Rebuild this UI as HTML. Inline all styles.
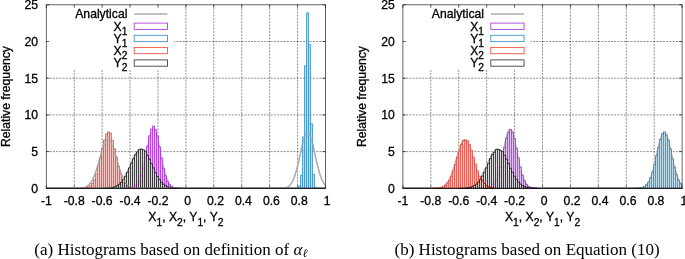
<!DOCTYPE html>
<html><head><meta charset="utf-8"><title>Histograms</title>
<style>
html,body{margin:0;padding:0;background:#fff;}
svg{display:block;}
.t{font-family:"Liberation Sans",sans-serif;font-size:12.2px;fill:#000;stroke:#000;stroke-width:0.3px;}
.c{font-family:"Liberation Serif","DejaVu Serif",serif;font-size:16.2px;fill:#000;}
</style></head><body>
<svg width="685" height="259" viewBox="0 0 685 259">
<rect width="685" height="259" fill="#fff"/>
<path d="M74.22 4.8 V188.3 M102.14 4.8 V188.3 M130.06 4.8 V188.3 M157.98 4.8 V188.3 M185.90 4.8 V188.3 M213.82 4.8 V188.3 M241.74 4.8 V188.3 M269.66 4.8 V188.3 M297.58 4.8 V188.3 M46.3 151.60 H325.5 M46.3 114.90 H325.5 M46.3 78.20 H325.5 M46.3 41.50 H325.5" fill="none" stroke="#000" stroke-width="0.7" stroke-dasharray="2.1 1.15" opacity="0.62"/>
<rect x="46.90" y="5.3999999999999995" width="127.00" height="64.10" fill="#fff"/>
<path d="M46.30 188.3 v-3.0 M46.30 4.8 v3.0 M74.22 188.3 v-3.0 M74.22 4.8 v3.0 M102.14 188.3 v-3.0 M102.14 4.8 v3.0 M130.06 188.3 v-3.0 M130.06 4.8 v3.0 M157.98 188.3 v-3.0 M157.98 4.8 v3.0 M185.90 188.3 v-3.0 M185.90 4.8 v3.0 M213.82 188.3 v-3.0 M213.82 4.8 v3.0 M241.74 188.3 v-3.0 M241.74 4.8 v3.0 M269.66 188.3 v-3.0 M269.66 4.8 v3.0 M297.58 188.3 v-3.0 M297.58 4.8 v3.0 M325.50 188.3 v-3.0 M325.50 4.8 v3.0 M46.3 188.30 h3.0 M325.5 188.30 h-3.0 M46.3 151.60 h3.0 M325.5 151.60 h-3.0 M46.3 114.90 h3.0 M325.5 114.90 h-3.0 M46.3 78.20 h3.0 M325.5 78.20 h-3.0 M46.3 41.50 h3.0 M325.5 41.50 h-3.0 M46.3 4.80 h3.0 M325.5 4.80 h-3.0" fill="none" stroke="#000" stroke-width="0.6"/>
<polyline points="46.30,188.30 46.86,188.30 47.42,188.30 47.98,188.30 48.53,188.30 49.09,188.30 49.65,188.30 50.21,188.30 50.77,188.30 51.33,188.30 51.88,188.30 52.44,188.30 53.00,188.30 53.56,188.30 54.12,188.30 54.68,188.30 55.23,188.30 55.79,188.30 56.35,188.30 56.91,188.30 57.47,188.30 58.03,188.30 58.58,188.30 59.14,188.30 59.70,188.30 60.26,188.30 60.82,188.30 61.38,188.30 61.94,188.30 62.49,188.30 63.05,188.30 63.61,188.30 64.17,188.30 64.73,188.30 65.29,188.30 65.84,188.30 66.40,188.30 66.96,188.30 67.52,188.30 68.08,188.30 68.64,188.30 69.19,188.30 69.75,188.30 70.31,188.30 70.87,188.30 71.43,188.30 71.99,188.30 72.54,188.30 73.10,188.30 73.66,188.30 74.22,188.30 74.78,188.30 75.34,188.30 75.90,188.30 76.45,188.30 77.01,188.30 77.57,188.30 78.13,188.30 78.69,188.30 79.25,188.30 79.80,188.30 80.36,188.30 80.92,188.30 81.48,188.30 82.04,188.30 82.60,188.30 83.15,188.30 83.71,188.30 84.27,188.30 84.83,188.30 85.39,188.30 85.95,188.30 86.50,188.30 87.06,188.30 87.62,188.30 88.18,188.30 88.74,188.30 89.30,188.30 89.86,188.30 90.41,188.30 90.97,188.30 91.53,188.30 92.09,188.30 92.65,188.30 93.21,188.30 93.76,188.30 94.32,188.30 94.88,188.30 95.44,188.30 96.00,188.30 96.56,188.30 97.11,188.30 97.67,188.30 98.23,188.30 98.79,188.30 99.35,188.30 99.91,188.30 100.46,188.30 101.02,188.30 101.58,188.30 102.14,188.30 102.70,188.30 103.26,188.30 103.82,188.30 104.37,188.30 104.93,188.30 105.49,188.30 106.05,188.30 106.61,188.30 107.17,188.30 107.72,188.30 108.28,188.30 108.84,188.30 109.40,188.30 109.96,188.30 110.52,188.30 111.07,188.30 111.63,188.30 112.19,188.30 112.75,188.30 113.31,188.30 113.87,188.30 114.42,188.30 114.98,188.30 115.54,188.30 116.10,188.30 116.66,188.30 117.22,188.30 117.78,188.30 118.33,188.30 118.89,188.30 119.45,188.30 120.01,188.30 120.57,188.30 121.13,188.30 121.68,188.30 122.24,188.30 122.80,188.30 123.36,188.30 123.92,188.29 124.48,188.29 125.03,188.29 125.59,188.28 126.15,188.27 126.71,188.27 127.27,188.25 127.83,188.24 128.38,188.21 128.94,188.19 129.50,188.15 130.06,188.10 130.62,188.04 131.18,187.96 131.74,187.86 132.29,187.74 132.85,187.59 133.41,187.40 133.97,187.17 134.53,186.88 135.09,186.54 135.64,186.13 136.20,185.64 136.76,185.06 137.32,184.38 137.88,183.58 138.44,182.67 138.99,181.62 139.55,180.42 140.11,179.07 140.67,177.56 141.23,175.88 141.79,174.03 142.34,172.01 142.90,169.82 143.46,167.48 144.02,164.99 144.58,162.38 145.14,159.65 145.70,156.85 146.25,153.99 146.81,151.11 147.37,148.26 147.93,145.46 148.49,142.76 149.05,140.21 149.60,137.84 150.16,135.69 150.72,133.81 151.28,132.23 151.84,130.97 152.40,130.06 152.95,129.52 153.51,129.36 154.07,129.58 154.63,130.18 155.19,131.14 155.75,132.45 156.30,134.08 156.86,136.00 157.42,138.18 157.98,140.58 158.54,143.16 159.10,145.87 159.66,148.68 160.21,151.54 160.77,154.42 161.33,157.27 161.89,160.07 162.45,162.78 163.01,165.37 163.56,167.84 164.12,170.16 164.68,172.32 165.24,174.31 165.80,176.14 166.36,177.79 166.91,179.28 167.47,180.61 168.03,181.78 168.59,182.81 169.15,183.71 169.71,184.49 170.26,185.15 170.82,185.72 171.38,186.19 171.94,186.60 172.50,186.93 173.06,187.20 173.62,187.43 174.17,187.61 174.73,187.76 175.29,187.88 175.85,187.98 176.41,188.05 176.97,188.11 177.52,188.16 178.08,188.19 178.64,188.22 179.20,188.24 179.76,188.25 180.32,188.27 180.87,188.28 181.43,188.28 181.99,188.29 182.55,188.29 183.11,188.29 183.67,188.30 184.22,188.30 184.78,188.30 185.34,188.30 185.90,188.30 186.46,188.30 187.02,188.30 187.58,188.30 188.13,188.30 188.69,188.30 189.25,188.30 189.81,188.30 190.37,188.30 190.93,188.30 191.48,188.30 192.04,188.30 192.60,188.30 193.16,188.30 193.72,188.30 194.28,188.30 194.83,188.30 195.39,188.30 195.95,188.30 196.51,188.30 197.07,188.30 197.63,188.30 198.18,188.30 198.74,188.30 199.30,188.30 199.86,188.30 200.42,188.30 200.98,188.30 201.54,188.30 202.09,188.30 202.65,188.30 203.21,188.30 203.77,188.30 204.33,188.30 204.89,188.30 205.44,188.30 206.00,188.30 206.56,188.30 207.12,188.30 207.68,188.30 208.24,188.30 208.79,188.30 209.35,188.30 209.91,188.30 210.47,188.30 211.03,188.30 211.59,188.30 212.14,188.30 212.70,188.30 213.26,188.30 213.82,188.30 214.38,188.30 214.94,188.30 215.50,188.30 216.05,188.30 216.61,188.30 217.17,188.30 217.73,188.30 218.29,188.30 218.85,188.30 219.40,188.30 219.96,188.30 220.52,188.30 221.08,188.30 221.64,188.30 222.20,188.30 222.75,188.30 223.31,188.30 223.87,188.30 224.43,188.30 224.99,188.30 225.55,188.30 226.10,188.30 226.66,188.30 227.22,188.30 227.78,188.30 228.34,188.30 228.90,188.30 229.46,188.30 230.01,188.30 230.57,188.30 231.13,188.30 231.69,188.30 232.25,188.30 232.81,188.30 233.36,188.30 233.92,188.30 234.48,188.30 235.04,188.30 235.60,188.30 236.16,188.30 236.71,188.30 237.27,188.30 237.83,188.30 238.39,188.30 238.95,188.30 239.51,188.30 240.06,188.30 240.62,188.30 241.18,188.30 241.74,188.30 242.30,188.30 242.86,188.30 243.42,188.30 243.97,188.30 244.53,188.30 245.09,188.30 245.65,188.30 246.21,188.30 246.77,188.30 247.32,188.30 247.88,188.30 248.44,188.30 249.00,188.30 249.56,188.30 250.12,188.30 250.67,188.30 251.23,188.30 251.79,188.30 252.35,188.30 252.91,188.30 253.47,188.30 254.02,188.30 254.58,188.30 255.14,188.30 255.70,188.30 256.26,188.30 256.82,188.30 257.38,188.30 257.93,188.30 258.49,188.30 259.05,188.30 259.61,188.30 260.17,188.30 260.73,188.30 261.28,188.30 261.84,188.30 262.40,188.30 262.96,188.30 263.52,188.30 264.08,188.30 264.63,188.30 265.19,188.30 265.75,188.30 266.31,188.30 266.87,188.30 267.43,188.30 267.98,188.30 268.54,188.30 269.10,188.30 269.66,188.30 270.22,188.30 270.78,188.30 271.34,188.30 271.89,188.30 272.45,188.30 273.01,188.30 273.57,188.30 274.13,188.30 274.69,188.30 275.24,188.30 275.80,188.30 276.36,188.30 276.92,188.30 277.48,188.30 278.04,188.30 278.59,188.30 279.15,188.30 279.71,188.30 280.27,188.30 280.83,188.30 281.39,188.30 281.94,188.30 282.50,188.30 283.06,188.30 283.62,188.30 284.18,188.30 284.74,188.30 285.30,188.30 285.85,188.30 286.41,188.30 286.97,188.30 287.53,188.30 288.09,188.30 288.65,188.30 289.20,188.30 289.76,188.30 290.32,188.30 290.88,188.30 291.44,188.30 292.00,188.30 292.55,188.30 293.11,188.30 293.67,188.30 294.23,188.30 294.79,188.30 295.35,188.30 295.90,188.30 296.46,188.30 297.02,188.30 297.58,188.30 298.14,188.30 298.70,188.30 299.26,188.30 299.81,188.30 300.37,188.30 300.93,188.30 301.49,188.30 302.05,188.30 302.61,188.30 303.16,188.30 303.72,188.30 304.28,188.30 304.84,188.30 305.40,188.30 305.96,188.30 306.51,188.30 307.07,188.30 307.63,188.30 308.19,188.30 308.75,188.30 309.31,188.30 309.86,188.30 310.42,188.30 310.98,188.30 311.54,188.30 312.10,188.30 312.66,188.30 313.22,188.30 313.77,188.30 314.33,188.30 314.89,188.30 315.45,188.30 316.01,188.30 316.57,188.30 317.12,188.30 317.68,188.30 318.24,188.30 318.80,188.30 319.36,188.30 319.92,188.30 320.47,188.30 321.03,188.30 321.59,188.30 322.15,188.30 322.71,188.30 323.27,188.30 323.82,188.30 324.38,188.30 324.94,188.30 325.50,188.30" fill="none" stroke="#adadad" stroke-width="1.4" stroke-linejoin="round"/>
<polyline points="46.30,188.30 46.86,188.30 47.42,188.30 47.98,188.30 48.53,188.30 49.09,188.30 49.65,188.30 50.21,188.30 50.77,188.30 51.33,188.30 51.88,188.30 52.44,188.30 53.00,188.30 53.56,188.30 54.12,188.30 54.68,188.30 55.23,188.30 55.79,188.30 56.35,188.30 56.91,188.30 57.47,188.30 58.03,188.30 58.58,188.30 59.14,188.30 59.70,188.30 60.26,188.30 60.82,188.30 61.38,188.30 61.94,188.30 62.49,188.30 63.05,188.30 63.61,188.30 64.17,188.30 64.73,188.30 65.29,188.30 65.84,188.30 66.40,188.30 66.96,188.30 67.52,188.30 68.08,188.30 68.64,188.30 69.19,188.30 69.75,188.30 70.31,188.30 70.87,188.30 71.43,188.30 71.99,188.30 72.54,188.30 73.10,188.30 73.66,188.30 74.22,188.30 74.78,188.30 75.34,188.30 75.90,188.30 76.45,188.30 77.01,188.30 77.57,188.30 78.13,188.30 78.69,188.30 79.25,188.30 79.80,188.30 80.36,188.30 80.92,188.30 81.48,188.30 82.04,188.30 82.60,188.30 83.15,188.30 83.71,188.30 84.27,188.30 84.83,188.30 85.39,188.30 85.95,188.30 86.50,188.30 87.06,188.30 87.62,188.30 88.18,188.30 88.74,188.30 89.30,188.30 89.86,188.30 90.41,188.30 90.97,188.30 91.53,188.30 92.09,188.30 92.65,188.30 93.21,188.30 93.76,188.30 94.32,188.30 94.88,188.30 95.44,188.30 96.00,188.30 96.56,188.30 97.11,188.30 97.67,188.30 98.23,188.30 98.79,188.30 99.35,188.30 99.91,188.30 100.46,188.30 101.02,188.30 101.58,188.30 102.14,188.30 102.70,188.30 103.26,188.30 103.82,188.30 104.37,188.30 104.93,188.30 105.49,188.30 106.05,188.30 106.61,188.30 107.17,188.30 107.72,188.30 108.28,188.30 108.84,188.30 109.40,188.30 109.96,188.30 110.52,188.30 111.07,188.30 111.63,188.30 112.19,188.30 112.75,188.30 113.31,188.30 113.87,188.30 114.42,188.30 114.98,188.30 115.54,188.30 116.10,188.30 116.66,188.30 117.22,188.30 117.78,188.30 118.33,188.30 118.89,188.30 119.45,188.30 120.01,188.30 120.57,188.30 121.13,188.30 121.68,188.30 122.24,188.30 122.80,188.30 123.36,188.30 123.92,188.30 124.48,188.30 125.03,188.30 125.59,188.30 126.15,188.30 126.71,188.30 127.27,188.30 127.83,188.30 128.38,188.30 128.94,188.30 129.50,188.30 130.06,188.30 130.62,188.30 131.18,188.30 131.74,188.30 132.29,188.30 132.85,188.30 133.41,188.30 133.97,188.30 134.53,188.30 135.09,188.30 135.64,188.30 136.20,188.30 136.76,188.30 137.32,188.30 137.88,188.30 138.44,188.30 138.99,188.30 139.55,188.30 140.11,188.30 140.67,188.30 141.23,188.30 141.79,188.30 142.34,188.30 142.90,188.30 143.46,188.30 144.02,188.30 144.58,188.30 145.14,188.30 145.70,188.30 146.25,188.30 146.81,188.30 147.37,188.30 147.93,188.30 148.49,188.30 149.05,188.30 149.60,188.30 150.16,188.30 150.72,188.30 151.28,188.30 151.84,188.30 152.40,188.30 152.95,188.30 153.51,188.30 154.07,188.30 154.63,188.30 155.19,188.30 155.75,188.30 156.30,188.30 156.86,188.30 157.42,188.30 157.98,188.30 158.54,188.30 159.10,188.30 159.66,188.30 160.21,188.30 160.77,188.30 161.33,188.30 161.89,188.30 162.45,188.30 163.01,188.30 163.56,188.30 164.12,188.30 164.68,188.30 165.24,188.30 165.80,188.30 166.36,188.30 166.91,188.30 167.47,188.30 168.03,188.30 168.59,188.30 169.15,188.30 169.71,188.30 170.26,188.30 170.82,188.30 171.38,188.30 171.94,188.30 172.50,188.30 173.06,188.30 173.62,188.30 174.17,188.30 174.73,188.30 175.29,188.30 175.85,188.30 176.41,188.30 176.97,188.30 177.52,188.30 178.08,188.30 178.64,188.30 179.20,188.30 179.76,188.30 180.32,188.30 180.87,188.30 181.43,188.30 181.99,188.30 182.55,188.30 183.11,188.30 183.67,188.30 184.22,188.30 184.78,188.30 185.34,188.30 185.90,188.30 186.46,188.30 187.02,188.30 187.58,188.30 188.13,188.30 188.69,188.30 189.25,188.30 189.81,188.30 190.37,188.30 190.93,188.30 191.48,188.30 192.04,188.30 192.60,188.30 193.16,188.30 193.72,188.30 194.28,188.30 194.83,188.30 195.39,188.30 195.95,188.30 196.51,188.30 197.07,188.30 197.63,188.30 198.18,188.30 198.74,188.30 199.30,188.30 199.86,188.30 200.42,188.30 200.98,188.30 201.54,188.30 202.09,188.30 202.65,188.30 203.21,188.30 203.77,188.30 204.33,188.30 204.89,188.30 205.44,188.30 206.00,188.30 206.56,188.30 207.12,188.30 207.68,188.30 208.24,188.30 208.79,188.30 209.35,188.30 209.91,188.30 210.47,188.30 211.03,188.30 211.59,188.30 212.14,188.30 212.70,188.30 213.26,188.30 213.82,188.30 214.38,188.30 214.94,188.30 215.50,188.30 216.05,188.30 216.61,188.30 217.17,188.30 217.73,188.30 218.29,188.30 218.85,188.30 219.40,188.30 219.96,188.30 220.52,188.30 221.08,188.30 221.64,188.30 222.20,188.30 222.75,188.30 223.31,188.30 223.87,188.30 224.43,188.30 224.99,188.30 225.55,188.30 226.10,188.30 226.66,188.30 227.22,188.30 227.78,188.30 228.34,188.30 228.90,188.30 229.46,188.30 230.01,188.30 230.57,188.30 231.13,188.30 231.69,188.30 232.25,188.30 232.81,188.30 233.36,188.30 233.92,188.30 234.48,188.30 235.04,188.30 235.60,188.30 236.16,188.30 236.71,188.30 237.27,188.30 237.83,188.30 238.39,188.30 238.95,188.30 239.51,188.30 240.06,188.30 240.62,188.30 241.18,188.30 241.74,188.30 242.30,188.30 242.86,188.30 243.42,188.30 243.97,188.30 244.53,188.30 245.09,188.30 245.65,188.30 246.21,188.30 246.77,188.30 247.32,188.30 247.88,188.30 248.44,188.30 249.00,188.30 249.56,188.30 250.12,188.30 250.67,188.30 251.23,188.30 251.79,188.30 252.35,188.30 252.91,188.30 253.47,188.30 254.02,188.30 254.58,188.30 255.14,188.30 255.70,188.30 256.26,188.30 256.82,188.30 257.38,188.30 257.93,188.30 258.49,188.30 259.05,188.30 259.61,188.30 260.17,188.30 260.73,188.30 261.28,188.30 261.84,188.30 262.40,188.30 262.96,188.30 263.52,188.30 264.08,188.30 264.63,188.30 265.19,188.30 265.75,188.30 266.31,188.30 266.87,188.30 267.43,188.30 267.98,188.30 268.54,188.30 269.10,188.30 269.66,188.30 270.22,188.30 270.78,188.30 271.34,188.30 271.89,188.30 272.45,188.30 273.01,188.30 273.57,188.30 274.13,188.30 274.69,188.30 275.24,188.30 275.80,188.29 276.36,188.29 276.92,188.29 277.48,188.29 278.04,188.28 278.59,188.27 279.15,188.27 279.71,188.25 280.27,188.24 280.83,188.22 281.39,188.20 281.94,188.16 282.50,188.12 283.06,188.07 283.62,188.01 284.18,187.93 284.74,187.83 285.30,187.71 285.85,187.56 286.41,187.38 286.97,187.16 287.53,186.89 288.09,186.58 288.65,186.21 289.20,185.77 289.76,185.25 290.32,184.65 290.88,183.96 291.44,183.17 292.00,182.27 292.55,181.25 293.11,180.10 293.67,178.83 294.23,177.41 294.79,175.85 295.35,174.16 295.90,172.32 296.46,170.34 297.02,168.24 297.58,166.02 298.14,163.69 298.70,161.27 299.26,158.78 299.81,156.25 300.37,153.70 300.93,151.16 301.49,148.65 302.05,146.22 302.61,143.89 303.16,141.71 303.72,139.69 304.28,137.87 304.84,136.28 305.40,134.94 305.96,133.88 306.51,133.12 307.07,132.66 307.63,132.52 308.19,132.69 308.75,133.18 309.31,133.97 309.86,135.06 310.42,136.42 310.98,138.04 311.54,139.88 312.10,141.92 312.66,144.12 313.22,146.46 313.77,148.90 314.33,151.41 314.89,153.95 315.45,156.51 316.01,159.03 316.57,161.52 317.12,163.92 317.68,166.24 318.24,168.46 318.80,170.55 319.36,172.51 319.92,174.33 320.47,176.02 321.03,177.56 321.59,178.96 322.15,180.22 322.71,181.36 323.27,182.37 323.82,183.26 324.38,184.04 324.94,184.72 325.50,185.31" fill="none" stroke="#adadad" stroke-width="1.4" stroke-linejoin="round"/>
<polyline points="46.30,188.30 46.86,188.30 47.42,188.30 47.98,188.30 48.53,188.30 49.09,188.30 49.65,188.30 50.21,188.30 50.77,188.30 51.33,188.30 51.88,188.30 52.44,188.30 53.00,188.30 53.56,188.30 54.12,188.30 54.68,188.30 55.23,188.30 55.79,188.30 56.35,188.30 56.91,188.30 57.47,188.30 58.03,188.30 58.58,188.30 59.14,188.30 59.70,188.30 60.26,188.30 60.82,188.30 61.38,188.30 61.94,188.30 62.49,188.30 63.05,188.30 63.61,188.30 64.17,188.30 64.73,188.30 65.29,188.30 65.84,188.30 66.40,188.30 66.96,188.30 67.52,188.30 68.08,188.30 68.64,188.30 69.19,188.30 69.75,188.30 70.31,188.30 70.87,188.30 71.43,188.30 71.99,188.30 72.54,188.29 73.10,188.29 73.66,188.29 74.22,188.29 74.78,188.28 75.34,188.28 75.90,188.27 76.45,188.26 77.01,188.25 77.57,188.23 78.13,188.22 78.69,188.19 79.25,188.17 79.80,188.13 80.36,188.09 80.92,188.04 81.48,187.98 82.04,187.90 82.60,187.81 83.15,187.71 83.71,187.58 84.27,187.43 84.83,187.25 85.39,187.04 85.95,186.80 86.50,186.51 87.06,186.19 87.62,185.81 88.18,185.38 88.74,184.89 89.30,184.34 89.86,183.71 90.41,183.01 90.97,182.23 91.53,181.37 92.09,180.42 92.65,179.37 93.21,178.23 93.76,177.00 94.32,175.67 94.88,174.25 95.44,172.74 96.00,171.14 96.56,169.46 97.11,167.70 97.67,165.88 98.23,164.01 98.79,162.09 99.35,160.15 99.91,158.19 100.46,156.24 101.02,154.32 101.58,152.44 102.14,150.62 102.70,148.88 103.26,147.24 103.82,145.72 104.37,144.34 104.93,143.12 105.49,142.06 106.05,141.19 106.61,140.51 107.17,140.04 107.72,139.77 108.28,139.72 108.84,139.88 109.40,140.25 109.96,140.83 110.52,141.60 111.07,142.57 111.63,143.71 112.19,145.02 112.75,146.47 113.31,148.05 113.87,149.74 114.42,151.52 114.98,153.37 115.54,155.28 116.10,157.22 116.66,159.17 117.22,161.12 117.78,163.05 118.33,164.95 118.89,166.80 119.45,168.59 120.01,170.31 120.57,171.95 121.13,173.51 121.68,174.98 122.24,176.35 122.80,177.63 123.36,178.82 123.92,179.91 124.48,180.90 125.03,181.81 125.59,182.63 126.15,183.37 126.71,184.03 127.27,184.62 127.83,185.14 128.38,185.60 128.94,186.01 129.50,186.36 130.06,186.66 130.62,186.92 131.18,187.15 131.74,187.34 132.29,187.51 132.85,187.65 133.41,187.76 133.97,187.86 134.53,187.94 135.09,188.01 135.64,188.07 136.20,188.11 136.76,188.15 137.32,188.18 137.88,188.21 138.44,188.23 138.99,188.24 139.55,188.25 140.11,188.26 140.67,188.27 141.23,188.28 141.79,188.28 142.34,188.29 142.90,188.29 143.46,188.29 144.02,188.29 144.58,188.30 145.14,188.30 145.70,188.30 146.25,188.30 146.81,188.30 147.37,188.30 147.93,188.30 148.49,188.30 149.05,188.30 149.60,188.30 150.16,188.30 150.72,188.30 151.28,188.30 151.84,188.30 152.40,188.30 152.95,188.30 153.51,188.30 154.07,188.30 154.63,188.30 155.19,188.30 155.75,188.30 156.30,188.30 156.86,188.30 157.42,188.30 157.98,188.30 158.54,188.30 159.10,188.30 159.66,188.30 160.21,188.30 160.77,188.30 161.33,188.30 161.89,188.30 162.45,188.30 163.01,188.30 163.56,188.30 164.12,188.30 164.68,188.30 165.24,188.30 165.80,188.30 166.36,188.30 166.91,188.30 167.47,188.30 168.03,188.30 168.59,188.30 169.15,188.30 169.71,188.30 170.26,188.30 170.82,188.30 171.38,188.30 171.94,188.30 172.50,188.30 173.06,188.30 173.62,188.30 174.17,188.30 174.73,188.30 175.29,188.30 175.85,188.30 176.41,188.30 176.97,188.30 177.52,188.30 178.08,188.30 178.64,188.30 179.20,188.30 179.76,188.30 180.32,188.30 180.87,188.30 181.43,188.30 181.99,188.30 182.55,188.30 183.11,188.30 183.67,188.30 184.22,188.30 184.78,188.30 185.34,188.30 185.90,188.30 186.46,188.30 187.02,188.30 187.58,188.30 188.13,188.30 188.69,188.30 189.25,188.30 189.81,188.30 190.37,188.30 190.93,188.30 191.48,188.30 192.04,188.30 192.60,188.30 193.16,188.30 193.72,188.30 194.28,188.30 194.83,188.30 195.39,188.30 195.95,188.30 196.51,188.30 197.07,188.30 197.63,188.30 198.18,188.30 198.74,188.30 199.30,188.30 199.86,188.30 200.42,188.30 200.98,188.30 201.54,188.30 202.09,188.30 202.65,188.30 203.21,188.30 203.77,188.30 204.33,188.30 204.89,188.30 205.44,188.30 206.00,188.30 206.56,188.30 207.12,188.30 207.68,188.30 208.24,188.30 208.79,188.30 209.35,188.30 209.91,188.30 210.47,188.30 211.03,188.30 211.59,188.30 212.14,188.30 212.70,188.30 213.26,188.30 213.82,188.30 214.38,188.30 214.94,188.30 215.50,188.30 216.05,188.30 216.61,188.30 217.17,188.30 217.73,188.30 218.29,188.30 218.85,188.30 219.40,188.30 219.96,188.30 220.52,188.30 221.08,188.30 221.64,188.30 222.20,188.30 222.75,188.30 223.31,188.30 223.87,188.30 224.43,188.30 224.99,188.30 225.55,188.30 226.10,188.30 226.66,188.30 227.22,188.30 227.78,188.30 228.34,188.30 228.90,188.30 229.46,188.30 230.01,188.30 230.57,188.30 231.13,188.30 231.69,188.30 232.25,188.30 232.81,188.30 233.36,188.30 233.92,188.30 234.48,188.30 235.04,188.30 235.60,188.30 236.16,188.30 236.71,188.30 237.27,188.30 237.83,188.30 238.39,188.30 238.95,188.30 239.51,188.30 240.06,188.30 240.62,188.30 241.18,188.30 241.74,188.30 242.30,188.30 242.86,188.30 243.42,188.30 243.97,188.30 244.53,188.30 245.09,188.30 245.65,188.30 246.21,188.30 246.77,188.30 247.32,188.30 247.88,188.30 248.44,188.30 249.00,188.30 249.56,188.30 250.12,188.30 250.67,188.30 251.23,188.30 251.79,188.30 252.35,188.30 252.91,188.30 253.47,188.30 254.02,188.30 254.58,188.30 255.14,188.30 255.70,188.30 256.26,188.30 256.82,188.30 257.38,188.30 257.93,188.30 258.49,188.30 259.05,188.30 259.61,188.30 260.17,188.30 260.73,188.30 261.28,188.30 261.84,188.30 262.40,188.30 262.96,188.30 263.52,188.30 264.08,188.30 264.63,188.30 265.19,188.30 265.75,188.30 266.31,188.30 266.87,188.30 267.43,188.30 267.98,188.30 268.54,188.30 269.10,188.30 269.66,188.30 270.22,188.30 270.78,188.30 271.34,188.30 271.89,188.30 272.45,188.30 273.01,188.30 273.57,188.30 274.13,188.30 274.69,188.30 275.24,188.30 275.80,188.30 276.36,188.30 276.92,188.30 277.48,188.30 278.04,188.30 278.59,188.30 279.15,188.30 279.71,188.30 280.27,188.30 280.83,188.30 281.39,188.30 281.94,188.30 282.50,188.30 283.06,188.30 283.62,188.30 284.18,188.30 284.74,188.30 285.30,188.30 285.85,188.30 286.41,188.30 286.97,188.30 287.53,188.30 288.09,188.30 288.65,188.30 289.20,188.30 289.76,188.30 290.32,188.30 290.88,188.30 291.44,188.30 292.00,188.30 292.55,188.30 293.11,188.30 293.67,188.30 294.23,188.30 294.79,188.30 295.35,188.30 295.90,188.30 296.46,188.30 297.02,188.30 297.58,188.30 298.14,188.30 298.70,188.30 299.26,188.30 299.81,188.30 300.37,188.30 300.93,188.30 301.49,188.30 302.05,188.30 302.61,188.30 303.16,188.30 303.72,188.30 304.28,188.30 304.84,188.30 305.40,188.30 305.96,188.30 306.51,188.30 307.07,188.30 307.63,188.30 308.19,188.30 308.75,188.30 309.31,188.30 309.86,188.30 310.42,188.30 310.98,188.30 311.54,188.30 312.10,188.30 312.66,188.30 313.22,188.30 313.77,188.30 314.33,188.30 314.89,188.30 315.45,188.30 316.01,188.30 316.57,188.30 317.12,188.30 317.68,188.30 318.24,188.30 318.80,188.30 319.36,188.30 319.92,188.30 320.47,188.30 321.03,188.30 321.59,188.30 322.15,188.30 322.71,188.30 323.27,188.30 323.82,188.30 324.38,188.30 324.94,188.30 325.50,188.30" fill="none" stroke="#adadad" stroke-width="1.4" stroke-linejoin="round"/>
<polyline points="46.30,188.30 46.86,188.30 47.42,188.30 47.98,188.30 48.53,188.30 49.09,188.30 49.65,188.30 50.21,188.30 50.77,188.30 51.33,188.30 51.88,188.30 52.44,188.30 53.00,188.30 53.56,188.30 54.12,188.30 54.68,188.30 55.23,188.30 55.79,188.30 56.35,188.30 56.91,188.30 57.47,188.30 58.03,188.30 58.58,188.30 59.14,188.30 59.70,188.30 60.26,188.30 60.82,188.30 61.38,188.30 61.94,188.30 62.49,188.30 63.05,188.30 63.61,188.30 64.17,188.30 64.73,188.30 65.29,188.30 65.84,188.30 66.40,188.30 66.96,188.30 67.52,188.30 68.08,188.30 68.64,188.30 69.19,188.30 69.75,188.30 70.31,188.30 70.87,188.30 71.43,188.30 71.99,188.30 72.54,188.30 73.10,188.30 73.66,188.30 74.22,188.30 74.78,188.30 75.34,188.30 75.90,188.30 76.45,188.30 77.01,188.30 77.57,188.30 78.13,188.30 78.69,188.30 79.25,188.30 79.80,188.30 80.36,188.30 80.92,188.30 81.48,188.30 82.04,188.30 82.60,188.30 83.15,188.30 83.71,188.30 84.27,188.30 84.83,188.30 85.39,188.30 85.95,188.30 86.50,188.30 87.06,188.30 87.62,188.30 88.18,188.30 88.74,188.30 89.30,188.30 89.86,188.30 90.41,188.30 90.97,188.30 91.53,188.30 92.09,188.30 92.65,188.30 93.21,188.30 93.76,188.30 94.32,188.30 94.88,188.30 95.44,188.30 96.00,188.30 96.56,188.29 97.11,188.29 97.67,188.29 98.23,188.29 98.79,188.29 99.35,188.28 99.91,188.28 100.46,188.28 101.02,188.27 101.58,188.26 102.14,188.26 102.70,188.25 103.26,188.23 103.82,188.22 104.37,188.20 104.93,188.19 105.49,188.16 106.05,188.14 106.61,188.11 107.17,188.07 107.72,188.03 108.28,187.98 108.84,187.92 109.40,187.86 109.96,187.78 110.52,187.69 111.07,187.59 111.63,187.48 112.19,187.35 112.75,187.21 113.31,187.04 113.87,186.86 114.42,186.65 114.98,186.41 115.54,186.16 116.10,185.87 116.66,185.55 117.22,185.19 117.78,184.80 118.33,184.38 118.89,183.91 119.45,183.40 120.01,182.85 120.57,182.26 121.13,181.61 121.68,180.92 122.24,180.19 122.80,179.40 123.36,178.56 123.92,177.68 124.48,176.74 125.03,175.76 125.59,174.74 126.15,173.67 126.71,172.56 127.27,171.42 127.83,170.24 128.38,169.04 128.94,167.81 129.50,166.57 130.06,165.31 130.62,164.05 131.18,162.80 131.74,161.55 132.29,160.32 132.85,159.12 133.41,157.95 133.97,156.82 134.53,155.74 135.09,154.72 135.64,153.77 136.20,152.88 136.76,152.08 137.32,151.36 137.88,150.73 138.44,150.20 138.99,149.77 139.55,149.45 140.11,149.23 140.67,149.12 141.23,149.12 141.79,149.23 142.34,149.45 142.90,149.77 143.46,150.20 144.02,150.73 144.58,151.36 145.14,152.08 145.70,152.88 146.25,153.77 146.81,154.72 147.37,155.74 147.93,156.82 148.49,157.95 149.05,159.12 149.60,160.32 150.16,161.55 150.72,162.80 151.28,164.05 151.84,165.31 152.40,166.57 152.95,167.81 153.51,169.04 154.07,170.24 154.63,171.42 155.19,172.56 155.75,173.67 156.30,174.74 156.86,175.76 157.42,176.74 157.98,177.68 158.54,178.56 159.10,179.40 159.66,180.19 160.21,180.92 160.77,181.61 161.33,182.26 161.89,182.85 162.45,183.40 163.01,183.91 163.56,184.38 164.12,184.80 164.68,185.19 165.24,185.55 165.80,185.87 166.36,186.16 166.91,186.41 167.47,186.65 168.03,186.86 168.59,187.04 169.15,187.21 169.71,187.35 170.26,187.48 170.82,187.59 171.38,187.69 171.94,187.78 172.50,187.86 173.06,187.92 173.62,187.98 174.17,188.03 174.73,188.07 175.29,188.11 175.85,188.14 176.41,188.16 176.97,188.19 177.52,188.20 178.08,188.22 178.64,188.23 179.20,188.25 179.76,188.26 180.32,188.26 180.87,188.27 181.43,188.28 181.99,188.28 182.55,188.28 183.11,188.29 183.67,188.29 184.22,188.29 184.78,188.29 185.34,188.29 185.90,188.30 186.46,188.30 187.02,188.30 187.58,188.30 188.13,188.30 188.69,188.30 189.25,188.30 189.81,188.30 190.37,188.30 190.93,188.30 191.48,188.30 192.04,188.30 192.60,188.30 193.16,188.30 193.72,188.30 194.28,188.30 194.83,188.30 195.39,188.30 195.95,188.30 196.51,188.30 197.07,188.30 197.63,188.30 198.18,188.30 198.74,188.30 199.30,188.30 199.86,188.30 200.42,188.30 200.98,188.30 201.54,188.30 202.09,188.30 202.65,188.30 203.21,188.30 203.77,188.30 204.33,188.30 204.89,188.30 205.44,188.30 206.00,188.30 206.56,188.30 207.12,188.30 207.68,188.30 208.24,188.30 208.79,188.30 209.35,188.30 209.91,188.30 210.47,188.30 211.03,188.30 211.59,188.30 212.14,188.30 212.70,188.30 213.26,188.30 213.82,188.30 214.38,188.30 214.94,188.30 215.50,188.30 216.05,188.30 216.61,188.30 217.17,188.30 217.73,188.30 218.29,188.30 218.85,188.30 219.40,188.30 219.96,188.30 220.52,188.30 221.08,188.30 221.64,188.30 222.20,188.30 222.75,188.30 223.31,188.30 223.87,188.30 224.43,188.30 224.99,188.30 225.55,188.30 226.10,188.30 226.66,188.30 227.22,188.30 227.78,188.30 228.34,188.30 228.90,188.30 229.46,188.30 230.01,188.30 230.57,188.30 231.13,188.30 231.69,188.30 232.25,188.30 232.81,188.30 233.36,188.30 233.92,188.30 234.48,188.30 235.04,188.30 235.60,188.30 236.16,188.30 236.71,188.30 237.27,188.30 237.83,188.30 238.39,188.30 238.95,188.30 239.51,188.30 240.06,188.30 240.62,188.30 241.18,188.30 241.74,188.30 242.30,188.30 242.86,188.30 243.42,188.30 243.97,188.30 244.53,188.30 245.09,188.30 245.65,188.30 246.21,188.30 246.77,188.30 247.32,188.30 247.88,188.30 248.44,188.30 249.00,188.30 249.56,188.30 250.12,188.30 250.67,188.30 251.23,188.30 251.79,188.30 252.35,188.30 252.91,188.30 253.47,188.30 254.02,188.30 254.58,188.30 255.14,188.30 255.70,188.30 256.26,188.30 256.82,188.30 257.38,188.30 257.93,188.30 258.49,188.30 259.05,188.30 259.61,188.30 260.17,188.30 260.73,188.30 261.28,188.30 261.84,188.30 262.40,188.30 262.96,188.30 263.52,188.30 264.08,188.30 264.63,188.30 265.19,188.30 265.75,188.30 266.31,188.30 266.87,188.30 267.43,188.30 267.98,188.30 268.54,188.30 269.10,188.30 269.66,188.30 270.22,188.30 270.78,188.30 271.34,188.30 271.89,188.30 272.45,188.30 273.01,188.30 273.57,188.30 274.13,188.30 274.69,188.30 275.24,188.30 275.80,188.30 276.36,188.30 276.92,188.30 277.48,188.30 278.04,188.30 278.59,188.30 279.15,188.30 279.71,188.30 280.27,188.30 280.83,188.30 281.39,188.30 281.94,188.30 282.50,188.30 283.06,188.30 283.62,188.30 284.18,188.30 284.74,188.30 285.30,188.30 285.85,188.30 286.41,188.30 286.97,188.30 287.53,188.30 288.09,188.30 288.65,188.30 289.20,188.30 289.76,188.30 290.32,188.30 290.88,188.30 291.44,188.30 292.00,188.30 292.55,188.30 293.11,188.30 293.67,188.30 294.23,188.30 294.79,188.30 295.35,188.30 295.90,188.30 296.46,188.30 297.02,188.30 297.58,188.30 298.14,188.30 298.70,188.30 299.26,188.30 299.81,188.30 300.37,188.30 300.93,188.30 301.49,188.30 302.05,188.30 302.61,188.30 303.16,188.30 303.72,188.30 304.28,188.30 304.84,188.30 305.40,188.30 305.96,188.30 306.51,188.30 307.07,188.30 307.63,188.30 308.19,188.30 308.75,188.30 309.31,188.30 309.86,188.30 310.42,188.30 310.98,188.30 311.54,188.30 312.10,188.30 312.66,188.30 313.22,188.30 313.77,188.30 314.33,188.30 314.89,188.30 315.45,188.30 316.01,188.30 316.57,188.30 317.12,188.30 317.68,188.30 318.24,188.30 318.80,188.30 319.36,188.30 319.92,188.30 320.47,188.30 321.03,188.30 321.59,188.30 322.15,188.30 322.71,188.30 323.27,188.30 323.82,188.30 324.38,188.30 324.94,188.30 325.50,188.30" fill="none" stroke="#adadad" stroke-width="1.4" stroke-linejoin="round"/>
<path d="M126.50 188.3V188.27H128.50V188.3ZM128.50 188.3V188.20H130.50V188.3ZM130.50 188.3V188.01H132.50V188.3ZM132.50 188.3V187.58H134.50V188.3ZM134.50 188.3V186.60H136.50V188.3ZM136.50 188.3V184.68H138.50V188.3ZM138.50 188.3V181.21H140.50V188.3ZM140.50 188.3V175.77H142.50V188.3ZM142.50 188.3V168.16H144.50V188.3ZM144.50 188.3V157.60H146.50V188.3ZM146.50 188.3V146.23H148.50V188.3ZM148.50 188.3V135.83H150.50V188.3ZM150.50 188.3V128.93H152.50V188.3ZM152.50 188.3V125.95H154.50V188.3ZM154.50 188.3V129.56H156.50V188.3ZM156.50 188.3V135.94H158.50V188.3ZM158.50 188.3V146.72H160.50V188.3ZM160.50 188.3V158.12H162.50V188.3ZM162.50 188.3V168.22H164.50V188.3ZM164.50 188.3V175.70H166.50V188.3ZM166.50 188.3V181.21H168.50V188.3ZM168.50 188.3V184.76H170.50V188.3ZM170.50 188.3V186.61H172.50V188.3ZM172.50 188.3V187.58H174.50V188.3ZM174.50 188.3V188.02H176.50V188.3ZM176.50 188.3V188.20H178.50V188.3ZM178.50 188.3V188.27H180.50V188.3Z" fill="#dfb2f2" fill-opacity="0.85"/><path d="M126.50 188.3V188.27M126.50 188.27H128.50M128.50 188.3V188.20M128.50 188.20H130.50M130.50 188.3V188.01M130.50 188.01H132.50M132.50 188.3V187.58M132.50 187.58H134.50M134.50 188.3V186.60M134.50 186.60H136.50M136.50 188.3V184.68M136.50 184.68H138.50M138.50 188.3V181.21M138.50 181.21H140.50M140.50 188.3V175.77M140.50 175.77H142.50M142.50 188.3V168.16M142.50 168.16H144.50M144.50 188.3V157.60M144.50 157.60H146.50M146.50 188.3V146.23M146.50 146.23H148.50M148.50 188.3V135.83M148.50 135.83H150.50M150.50 188.3V128.93M150.50 128.93H152.50M152.50 188.3V125.95M152.50 125.95H154.50M154.50 188.3V125.95M154.50 129.56H156.50M156.50 188.3V129.56M156.50 135.94H158.50M158.50 188.3V135.94M158.50 146.72H160.50M160.50 188.3V146.72M160.50 158.12H162.50M162.50 188.3V158.12M162.50 168.22H164.50M164.50 188.3V168.22M164.50 175.70H166.50M166.50 188.3V175.70M166.50 181.21H168.50M168.50 188.3V181.21M168.50 184.76H170.50M170.50 188.3V184.76M170.50 186.61H172.50M172.50 188.3V186.61M172.50 187.58H174.50M174.50 188.3V187.58M174.50 188.02H176.50M176.50 188.3V188.02M176.50 188.20H178.50M178.50 188.3V188.20M178.50 188.27H180.50M180.50 188.3V188.27" fill="none" stroke="#9400d3" stroke-width="1.0" stroke-opacity="0.6"/>
<path d="M298.50 188.3V186.10H300.50V188.3ZM300.50 188.3V175.09H302.50V188.3ZM302.50 188.3V136.92H304.50V188.3ZM304.50 188.3V65.72H306.50V188.3ZM306.50 188.3V12.87H308.50V188.3ZM308.50 188.3V44.44H310.50V188.3ZM310.50 188.3V123.71H312.50V188.3ZM312.50 188.3V174.35H314.50V188.3ZM314.50 188.3V187.20H316.50V188.3Z" fill="#b2d5e8" fill-opacity="0.85"/><path d="M298.50 188.3V186.10M298.50 186.10H300.50M300.50 188.3V175.09M300.50 175.09H302.50M302.50 188.3V136.92M302.50 136.92H304.50M304.50 188.3V65.72M304.50 65.72H306.50M306.50 188.3V12.87M306.50 12.87H308.50M308.50 188.3V12.87M308.50 44.44H310.50M310.50 188.3V44.44M310.50 123.71H312.50M312.50 188.3V123.71M312.50 174.35H314.50M314.50 188.3V174.35M314.50 187.20H316.50M316.50 188.3V187.20" fill="none" stroke="#0072b2" stroke-width="1.0" stroke-opacity="0.6"/>
<path d="M79.50 188.3V188.27H81.50V188.3ZM81.50 188.3V188.21H83.50V188.3ZM83.50 188.3V188.07H85.50V188.3ZM85.50 188.3V187.74H87.50V188.3ZM87.50 188.3V187.06H89.50V188.3ZM89.50 188.3V185.73H91.50V188.3ZM91.50 188.3V183.43H93.50V188.3ZM93.50 188.3V179.72H95.50V188.3ZM95.50 188.3V174.13H97.50V188.3ZM97.50 188.3V166.39H99.50V188.3ZM99.50 188.3V157.86H101.50V188.3ZM101.50 188.3V148.43H103.50V188.3ZM103.50 188.3V139.92H105.50V188.3ZM105.50 188.3V134.03H107.50V188.3ZM107.50 188.3V131.94H109.50V188.3ZM109.50 188.3V133.22H111.50V188.3ZM111.50 188.3V140.30H113.50V188.3ZM113.50 188.3V148.84H115.50V188.3ZM115.50 188.3V157.24H117.50V188.3ZM117.50 188.3V166.33H119.50V188.3ZM119.50 188.3V173.83H121.50V188.3ZM121.50 188.3V179.64H123.50V188.3ZM123.50 188.3V183.35H125.50V188.3ZM125.50 188.3V185.72H127.50V188.3ZM127.50 188.3V187.08H129.50V188.3ZM129.50 188.3V187.74H131.50V188.3ZM131.50 188.3V188.07H133.50V188.3ZM133.50 188.3V188.21H135.50V188.3ZM135.50 188.3V188.27H137.50V188.3Z" fill="#f7bcb7" fill-opacity="0.85"/><path d="M79.50 188.3V188.27M79.50 188.27H81.50M81.50 188.3V188.21M81.50 188.21H83.50M83.50 188.3V188.07M83.50 188.07H85.50M85.50 188.3V187.74M85.50 187.74H87.50M87.50 188.3V187.06M87.50 187.06H89.50M89.50 188.3V185.73M89.50 185.73H91.50M91.50 188.3V183.43M91.50 183.43H93.50M93.50 188.3V179.72M93.50 179.72H95.50M95.50 188.3V174.13M95.50 174.13H97.50M97.50 188.3V166.39M97.50 166.39H99.50M99.50 188.3V157.86M99.50 157.86H101.50M101.50 188.3V148.43M101.50 148.43H103.50M103.50 188.3V139.92M103.50 139.92H105.50M105.50 188.3V134.03M105.50 134.03H107.50M107.50 188.3V131.94M107.50 131.94H109.50M109.50 188.3V131.94M109.50 133.22H111.50M111.50 188.3V133.22M111.50 140.30H113.50M113.50 188.3V140.30M113.50 148.84H115.50M115.50 188.3V148.84M115.50 157.24H117.50M117.50 188.3V157.24M117.50 166.33H119.50M119.50 188.3V166.33M119.50 173.83H121.50M121.50 188.3V173.83M121.50 179.64H123.50M123.50 188.3V179.64M123.50 183.35H125.50M125.50 188.3V183.35M125.50 185.72H127.50M127.50 188.3V185.72M127.50 187.08H129.50M129.50 188.3V187.08M129.50 187.74H131.50M131.50 188.3V187.74M131.50 188.07H133.50M133.50 188.3V188.07M133.50 188.21H135.50M135.50 188.3V188.21M135.50 188.27H137.50M137.50 188.3V188.27" fill="none" stroke="#e51e10" stroke-width="1.0" stroke-opacity="0.6"/>
<path d="M102.50 188.3V188.25H104.50V188.3ZM104.50 188.3V188.21H106.50V188.3ZM106.50 188.3V188.12H108.50V188.3ZM108.50 188.3V187.97H110.50V188.3ZM110.50 188.3V187.72H112.50V188.3ZM112.50 188.3V187.28H114.50V188.3ZM114.50 188.3V186.62H116.50V188.3ZM116.50 188.3V185.65H118.50V188.3ZM118.50 188.3V184.20H120.50V188.3ZM120.50 188.3V182.29H122.50V188.3ZM122.50 188.3V179.53H124.50V188.3ZM124.50 188.3V176.30H126.50V188.3ZM126.50 188.3V172.29H128.50V188.3ZM128.50 188.3V167.94H130.50V188.3ZM130.50 188.3V163.37H132.50V188.3ZM132.50 188.3V158.73H134.50V188.3ZM134.50 188.3V154.75H136.50V188.3ZM136.50 188.3V151.96H138.50V188.3ZM138.50 188.3V149.30H140.50V188.3ZM140.50 188.3V149.25H142.50V188.3ZM142.50 188.3V149.82H144.50V188.3ZM144.50 188.3V151.22H146.50V188.3ZM146.50 188.3V155.27H148.50V188.3ZM148.50 188.3V159.29H150.50V188.3ZM150.50 188.3V163.79H152.50V188.3ZM152.50 188.3V167.88H154.50V188.3ZM154.50 188.3V172.63H156.50V188.3ZM156.50 188.3V176.53H158.50V188.3ZM158.50 188.3V179.53H160.50V188.3ZM160.50 188.3V182.29H162.50V188.3ZM162.50 188.3V184.15H164.50V188.3ZM164.50 188.3V185.62H166.50V188.3ZM166.50 188.3V186.61H168.50V188.3ZM168.50 188.3V187.28H170.50V188.3ZM170.50 188.3V187.71H172.50V188.3ZM172.50 188.3V187.97H174.50V188.3ZM174.50 188.3V188.13H176.50V188.3ZM176.50 188.3V188.21H178.50V188.3ZM178.50 188.3V188.25H180.50V188.3Z" fill="#dbdbdb" fill-opacity="0.85"/><path d="M102.50 188.3V188.25M102.50 188.25H104.50M104.50 188.3V188.21M104.50 188.21H106.50M106.50 188.3V188.12M106.50 188.12H108.50M108.50 188.3V187.97M108.50 187.97H110.50M110.50 188.3V187.72M110.50 187.72H112.50M112.50 188.3V187.28M112.50 187.28H114.50M114.50 188.3V186.62M114.50 186.62H116.50M116.50 188.3V185.65M116.50 185.65H118.50M118.50 188.3V184.20M118.50 184.20H120.50M120.50 188.3V182.29M120.50 182.29H122.50M122.50 188.3V179.53M122.50 179.53H124.50M124.50 188.3V176.30M124.50 176.30H126.50M126.50 188.3V172.29M126.50 172.29H128.50M128.50 188.3V167.94M128.50 167.94H130.50M130.50 188.3V163.37M130.50 163.37H132.50M132.50 188.3V158.73M132.50 158.73H134.50M134.50 188.3V154.75M134.50 154.75H136.50M136.50 188.3V151.96M136.50 151.96H138.50M138.50 188.3V149.30M138.50 149.30H140.50M140.50 188.3V149.25M140.50 149.25H142.50M142.50 188.3V149.25M142.50 149.82H144.50M144.50 188.3V149.82M144.50 151.22H146.50M146.50 188.3V151.22M146.50 155.27H148.50M148.50 188.3V155.27M148.50 159.29H150.50M150.50 188.3V159.29M150.50 163.79H152.50M152.50 188.3V163.79M152.50 167.88H154.50M154.50 188.3V167.88M154.50 172.63H156.50M156.50 188.3V172.63M156.50 176.53H158.50M158.50 188.3V176.53M158.50 179.53H160.50M160.50 188.3V179.53M160.50 182.29H162.50M162.50 188.3V182.29M162.50 184.15H164.50M164.50 188.3V184.15M164.50 185.62H166.50M166.50 188.3V185.62M166.50 186.61H168.50M168.50 188.3V186.61M168.50 187.28H170.50M170.50 188.3V187.28M170.50 187.71H172.50M172.50 188.3V187.71M172.50 187.97H174.50M174.50 188.3V187.97M174.50 188.13H176.50M176.50 188.3V188.13M176.50 188.21H178.50M178.50 188.3V188.21M178.50 188.25H180.50M180.50 188.3V188.25" fill="none" stroke="#000000" stroke-width="1.0" stroke-opacity="0.72"/>
<circle cx="132.50" cy="187.58" r="0.75" fill="#9400d3"/><circle cx="134.50" cy="186.60" r="0.75" fill="#9400d3"/><circle cx="136.50" cy="184.68" r="0.75" fill="#9400d3"/><circle cx="138.50" cy="181.21" r="0.75" fill="#9400d3"/><circle cx="140.50" cy="175.77" r="0.75" fill="#9400d3"/><circle cx="142.50" cy="168.16" r="0.75" fill="#9400d3"/><circle cx="144.50" cy="157.60" r="0.75" fill="#9400d3"/>
<circle cx="125.50" cy="183.35" r="0.75" fill="#e51e10"/><circle cx="127.50" cy="185.72" r="0.75" fill="#e51e10"/><circle cx="129.50" cy="187.08" r="0.75" fill="#e51e10"/><circle cx="131.50" cy="187.74" r="0.75" fill="#e51e10"/>
<polyline points="46.30,188.30 46.86,188.30 47.42,188.30 47.98,188.30 48.53,188.30 49.09,188.30 49.65,188.30 50.21,188.30 50.77,188.30 51.33,188.30 51.88,188.30 52.44,188.30 53.00,188.30 53.56,188.30 54.12,188.30 54.68,188.30 55.23,188.30 55.79,188.30 56.35,188.30 56.91,188.30 57.47,188.30 58.03,188.30 58.58,188.30 59.14,188.30 59.70,188.30 60.26,188.30 60.82,188.30 61.38,188.30 61.94,188.30 62.49,188.30 63.05,188.30 63.61,188.30 64.17,188.30 64.73,188.30 65.29,188.30 65.84,188.30 66.40,188.30 66.96,188.30 67.52,188.30 68.08,188.30 68.64,188.30 69.19,188.30 69.75,188.30 70.31,188.30 70.87,188.30 71.43,188.30 71.99,188.30 72.54,188.30 73.10,188.30 73.66,188.30 74.22,188.30 74.78,188.30 75.34,188.30 75.90,188.30 76.45,188.30 77.01,188.30 77.57,188.30 78.13,188.30 78.69,188.30 79.25,188.30 79.80,188.30 80.36,188.30 80.92,188.30 81.48,188.30 82.04,188.30 82.60,188.30 83.15,188.30 83.71,188.30 84.27,188.30 84.83,188.30 85.39,188.30 85.95,188.30 86.50,188.30 87.06,188.30 87.62,188.30 88.18,188.30 88.74,188.30 89.30,188.30 89.86,188.30 90.41,188.30 90.97,188.30 91.53,188.30 92.09,188.30 92.65,188.30 93.21,188.30 93.76,188.30 94.32,188.30 94.88,188.30 95.44,188.30 96.00,188.30 96.56,188.30 97.11,188.30 97.67,188.30 98.23,188.30 98.79,188.30 99.35,188.30 99.91,188.30 100.46,188.30 101.02,188.30 101.58,188.30 102.14,188.30 102.70,188.30 103.26,188.30 103.82,188.30 104.37,188.30 104.93,188.30 105.49,188.30 106.05,188.30 106.61,188.30 107.17,188.30 107.72,188.30 108.28,188.30 108.84,188.30 109.40,188.30 109.96,188.30 110.52,188.30 111.07,188.30 111.63,188.30 112.19,188.30 112.75,188.30 113.31,188.30 113.87,188.30 114.42,188.30 114.98,188.30 115.54,188.30 116.10,188.30 116.66,188.30 117.22,188.30 117.78,188.30 118.33,188.30 118.89,188.30 119.45,188.30 120.01,188.30 120.57,188.30 121.13,188.30 121.68,188.30 122.24,188.30 122.80,188.30 123.36,188.30 123.92,188.30 124.48,188.30 125.03,188.30 125.59,188.30 126.15,188.30 126.71,188.30 127.27,188.30 127.83,188.30 128.38,188.30 128.94,188.30 129.50,188.30 130.06,188.30 130.62,188.30 131.18,188.30 131.74,188.30 132.29,188.30 132.85,188.30 133.41,188.30 133.97,188.30 134.53,188.30 135.09,188.30 135.64,188.30 136.20,188.30 136.76,188.30 137.32,188.30 137.88,188.30 138.44,188.30 138.99,188.30 139.55,188.30 140.11,188.30 140.67,188.30 141.23,188.30 141.79,188.30 142.34,188.30 142.90,188.30 143.46,188.30 144.02,188.30 144.58,188.30 145.14,188.30 145.70,188.30 146.25,188.30 146.81,188.30 147.37,188.30 147.93,188.30 148.49,188.30 149.05,188.30 149.60,188.30 150.16,188.30 150.72,188.30 151.28,188.30 151.84,188.30 152.40,188.30 152.95,188.30 153.51,188.30 154.07,188.30 154.63,188.30 155.19,188.30 155.75,188.30 156.30,188.30 156.86,188.30 157.42,188.30 157.98,188.30 158.54,188.30 159.10,188.30 159.66,188.30 160.21,188.30 160.77,188.30 161.33,188.30 161.89,188.30 162.45,188.30 163.01,188.30 163.56,188.30 164.12,188.30 164.68,188.30 165.24,188.30 165.80,188.30 166.36,188.30 166.91,188.30 167.47,188.30 168.03,188.30 168.59,188.30 169.15,188.30 169.71,188.30 170.26,188.30 170.82,188.30 171.38,188.30 171.94,188.30 172.50,188.30 173.06,188.30 173.62,188.30 174.17,188.30 174.73,188.30 175.29,188.30 175.85,188.30 176.41,188.30 176.97,188.30 177.52,188.30 178.08,188.30 178.64,188.30 179.20,188.30 179.76,188.30 180.32,188.30 180.87,188.30 181.43,188.30 181.99,188.30 182.55,188.30 183.11,188.30 183.67,188.30 184.22,188.30 184.78,188.30 185.34,188.30 185.90,188.30 186.46,188.30 187.02,188.30 187.58,188.30 188.13,188.30 188.69,188.30 189.25,188.30 189.81,188.30 190.37,188.30 190.93,188.30 191.48,188.30 192.04,188.30 192.60,188.30 193.16,188.30 193.72,188.30 194.28,188.30 194.83,188.30 195.39,188.30 195.95,188.30 196.51,188.30 197.07,188.30 197.63,188.30 198.18,188.30 198.74,188.30 199.30,188.30 199.86,188.30 200.42,188.30 200.98,188.30 201.54,188.30 202.09,188.30 202.65,188.30 203.21,188.30 203.77,188.30 204.33,188.30 204.89,188.30 205.44,188.30 206.00,188.30 206.56,188.30 207.12,188.30 207.68,188.30 208.24,188.30 208.79,188.30 209.35,188.30 209.91,188.30 210.47,188.30 211.03,188.30 211.59,188.30 212.14,188.30 212.70,188.30 213.26,188.30 213.82,188.30 214.38,188.30 214.94,188.30 215.50,188.30 216.05,188.30 216.61,188.30 217.17,188.30 217.73,188.30 218.29,188.30 218.85,188.30 219.40,188.30 219.96,188.30 220.52,188.30 221.08,188.30 221.64,188.30 222.20,188.30 222.75,188.30 223.31,188.30 223.87,188.30 224.43,188.30 224.99,188.30 225.55,188.30 226.10,188.30 226.66,188.30 227.22,188.30 227.78,188.30 228.34,188.30 228.90,188.30 229.46,188.30 230.01,188.30 230.57,188.30 231.13,188.30 231.69,188.30 232.25,188.30 232.81,188.30 233.36,188.30 233.92,188.30 234.48,188.30 235.04,188.30 235.60,188.30 236.16,188.30 236.71,188.30 237.27,188.30 237.83,188.30 238.39,188.30 238.95,188.30 239.51,188.30 240.06,188.30 240.62,188.30 241.18,188.30 241.74,188.30 242.30,188.30 242.86,188.30 243.42,188.30 243.97,188.30 244.53,188.30 245.09,188.30 245.65,188.30 246.21,188.30 246.77,188.30 247.32,188.30 247.88,188.30 248.44,188.30 249.00,188.30 249.56,188.30 250.12,188.30 250.67,188.30 251.23,188.30 251.79,188.30 252.35,188.30 252.91,188.30 253.47,188.30 254.02,188.30 254.58,188.30 255.14,188.30 255.70,188.30 256.26,188.30 256.82,188.30 257.38,188.30 257.93,188.30 258.49,188.30 259.05,188.30 259.61,188.30 260.17,188.30 260.73,188.30 261.28,188.30 261.84,188.30 262.40,188.30 262.96,188.30 263.52,188.30 264.08,188.30 264.63,188.30 265.19,188.30 265.75,188.30 266.31,188.30 266.87,188.30 267.43,188.30 267.98,188.30 268.54,188.30 269.10,188.30 269.66,188.30 270.22,188.30 270.78,188.30 271.34,188.30 271.89,188.30 272.45,188.30 273.01,188.30 273.57,188.30 274.13,188.30 274.69,188.30 275.24,188.30 275.80,188.29 276.36,188.29 276.92,188.29 277.48,188.29 278.04,188.28 278.59,188.27 279.15,188.27 279.71,188.25 280.27,188.24 280.83,188.22 281.39,188.20 281.94,188.16 282.50,188.12 283.06,188.07 283.62,188.01 284.18,187.93 284.74,187.83 285.30,187.71 285.85,187.56 286.41,187.38 286.97,187.16 287.53,186.89 288.09,186.58 288.65,186.21 289.20,185.77 289.76,185.25 290.32,184.65 290.88,183.96 291.44,183.17 292.00,182.27 292.55,181.25 293.11,180.10 293.67,178.83 294.23,177.41 294.79,175.85 295.35,174.16 295.90,172.32 296.46,170.34 297.02,168.24 297.58,166.02 298.14,163.69 298.70,161.27 299.26,158.78 299.81,156.25 300.37,153.70 300.93,151.16 301.49,148.65 302.05,146.22 302.61,143.89 303.16,141.71 303.72,139.69 304.28,137.87 304.84,136.28 305.40,134.94 305.96,133.88 306.51,133.12 307.07,132.66 307.63,132.52 308.19,132.69 308.75,133.18 309.31,133.97 309.86,135.06 310.42,136.42 310.98,138.04 311.54,139.88 312.10,141.92 312.66,144.12 313.22,146.46 313.77,148.90 314.33,151.41 314.89,153.95 315.45,156.51 316.01,159.03 316.57,161.52 317.12,163.92 317.68,166.24 318.24,168.46 318.80,170.55 319.36,172.51 319.92,174.33 320.47,176.02 321.03,177.56 321.59,178.96 322.15,180.22 322.71,181.36 323.27,182.37 323.82,183.26 324.38,184.04 324.94,184.72 325.50,185.31" fill="none" stroke="#adadad" stroke-width="1.4" stroke-linejoin="round" opacity="0.5"/>
<polyline points="46.30,188.30 46.86,188.30 47.42,188.30 47.98,188.30 48.53,188.30 49.09,188.30 49.65,188.30 50.21,188.30 50.77,188.30 51.33,188.30 51.88,188.30 52.44,188.30 53.00,188.30 53.56,188.30 54.12,188.30 54.68,188.30 55.23,188.30 55.79,188.30 56.35,188.30 56.91,188.30 57.47,188.30 58.03,188.30 58.58,188.30 59.14,188.30 59.70,188.30 60.26,188.30 60.82,188.30 61.38,188.30 61.94,188.30 62.49,188.30 63.05,188.30 63.61,188.30 64.17,188.30 64.73,188.30 65.29,188.30 65.84,188.30 66.40,188.30 66.96,188.30 67.52,188.30 68.08,188.30 68.64,188.30 69.19,188.30 69.75,188.30 70.31,188.30 70.87,188.30 71.43,188.30 71.99,188.30 72.54,188.29 73.10,188.29 73.66,188.29 74.22,188.29 74.78,188.28 75.34,188.28 75.90,188.27 76.45,188.26 77.01,188.25 77.57,188.23 78.13,188.22 78.69,188.19 79.25,188.17 79.80,188.13 80.36,188.09 80.92,188.04 81.48,187.98 82.04,187.90 82.60,187.81 83.15,187.71 83.71,187.58 84.27,187.43 84.83,187.25 85.39,187.04 85.95,186.80 86.50,186.51 87.06,186.19 87.62,185.81 88.18,185.38 88.74,184.89 89.30,184.34 89.86,183.71 90.41,183.01 90.97,182.23 91.53,181.37 92.09,180.42 92.65,179.37 93.21,178.23 93.76,177.00 94.32,175.67 94.88,174.25 95.44,172.74 96.00,171.14 96.56,169.46 97.11,167.70 97.67,165.88 98.23,164.01 98.79,162.09 99.35,160.15 99.91,158.19 100.46,156.24 101.02,154.32 101.58,152.44 102.14,150.62 102.70,148.88 103.26,147.24 103.82,145.72 104.37,144.34 104.93,143.12 105.49,142.06 106.05,141.19 106.61,140.51 107.17,140.04 107.72,139.77 108.28,139.72 108.84,139.88 109.40,140.25 109.96,140.83 110.52,141.60 111.07,142.57 111.63,143.71 112.19,145.02 112.75,146.47 113.31,148.05 113.87,149.74 114.42,151.52 114.98,153.37 115.54,155.28 116.10,157.22 116.66,159.17 117.22,161.12 117.78,163.05 118.33,164.95 118.89,166.80 119.45,168.59 120.01,170.31 120.57,171.95 121.13,173.51 121.68,174.98 122.24,176.35 122.80,177.63 123.36,178.82 123.92,179.91 124.48,180.90 125.03,181.81 125.59,182.63 126.15,183.37 126.71,184.03 127.27,184.62 127.83,185.14 128.38,185.60 128.94,186.01 129.50,186.36 130.06,186.66 130.62,186.92 131.18,187.15 131.74,187.34 132.29,187.51 132.85,187.65 133.41,187.76 133.97,187.86 134.53,187.94 135.09,188.01 135.64,188.07 136.20,188.11 136.76,188.15 137.32,188.18 137.88,188.21 138.44,188.23 138.99,188.24 139.55,188.25 140.11,188.26 140.67,188.27 141.23,188.28 141.79,188.28 142.34,188.29 142.90,188.29 143.46,188.29 144.02,188.29 144.58,188.30 145.14,188.30 145.70,188.30 146.25,188.30 146.81,188.30 147.37,188.30 147.93,188.30 148.49,188.30 149.05,188.30 149.60,188.30 150.16,188.30 150.72,188.30 151.28,188.30 151.84,188.30 152.40,188.30 152.95,188.30 153.51,188.30 154.07,188.30 154.63,188.30 155.19,188.30 155.75,188.30 156.30,188.30 156.86,188.30 157.42,188.30 157.98,188.30 158.54,188.30 159.10,188.30 159.66,188.30 160.21,188.30 160.77,188.30 161.33,188.30 161.89,188.30 162.45,188.30 163.01,188.30 163.56,188.30 164.12,188.30 164.68,188.30 165.24,188.30 165.80,188.30 166.36,188.30 166.91,188.30 167.47,188.30 168.03,188.30 168.59,188.30 169.15,188.30 169.71,188.30 170.26,188.30 170.82,188.30 171.38,188.30 171.94,188.30 172.50,188.30 173.06,188.30 173.62,188.30 174.17,188.30 174.73,188.30 175.29,188.30 175.85,188.30 176.41,188.30 176.97,188.30 177.52,188.30 178.08,188.30 178.64,188.30 179.20,188.30 179.76,188.30 180.32,188.30 180.87,188.30 181.43,188.30 181.99,188.30 182.55,188.30 183.11,188.30 183.67,188.30 184.22,188.30 184.78,188.30 185.34,188.30 185.90,188.30 186.46,188.30 187.02,188.30 187.58,188.30 188.13,188.30 188.69,188.30 189.25,188.30 189.81,188.30 190.37,188.30 190.93,188.30 191.48,188.30 192.04,188.30 192.60,188.30 193.16,188.30 193.72,188.30 194.28,188.30 194.83,188.30 195.39,188.30 195.95,188.30 196.51,188.30 197.07,188.30 197.63,188.30 198.18,188.30 198.74,188.30 199.30,188.30 199.86,188.30 200.42,188.30 200.98,188.30 201.54,188.30 202.09,188.30 202.65,188.30 203.21,188.30 203.77,188.30 204.33,188.30 204.89,188.30 205.44,188.30 206.00,188.30 206.56,188.30 207.12,188.30 207.68,188.30 208.24,188.30 208.79,188.30 209.35,188.30 209.91,188.30 210.47,188.30 211.03,188.30 211.59,188.30 212.14,188.30 212.70,188.30 213.26,188.30 213.82,188.30 214.38,188.30 214.94,188.30 215.50,188.30 216.05,188.30 216.61,188.30 217.17,188.30 217.73,188.30 218.29,188.30 218.85,188.30 219.40,188.30 219.96,188.30 220.52,188.30 221.08,188.30 221.64,188.30 222.20,188.30 222.75,188.30 223.31,188.30 223.87,188.30 224.43,188.30 224.99,188.30 225.55,188.30 226.10,188.30 226.66,188.30 227.22,188.30 227.78,188.30 228.34,188.30 228.90,188.30 229.46,188.30 230.01,188.30 230.57,188.30 231.13,188.30 231.69,188.30 232.25,188.30 232.81,188.30 233.36,188.30 233.92,188.30 234.48,188.30 235.04,188.30 235.60,188.30 236.16,188.30 236.71,188.30 237.27,188.30 237.83,188.30 238.39,188.30 238.95,188.30 239.51,188.30 240.06,188.30 240.62,188.30 241.18,188.30 241.74,188.30 242.30,188.30 242.86,188.30 243.42,188.30 243.97,188.30 244.53,188.30 245.09,188.30 245.65,188.30 246.21,188.30 246.77,188.30 247.32,188.30 247.88,188.30 248.44,188.30 249.00,188.30 249.56,188.30 250.12,188.30 250.67,188.30 251.23,188.30 251.79,188.30 252.35,188.30 252.91,188.30 253.47,188.30 254.02,188.30 254.58,188.30 255.14,188.30 255.70,188.30 256.26,188.30 256.82,188.30 257.38,188.30 257.93,188.30 258.49,188.30 259.05,188.30 259.61,188.30 260.17,188.30 260.73,188.30 261.28,188.30 261.84,188.30 262.40,188.30 262.96,188.30 263.52,188.30 264.08,188.30 264.63,188.30 265.19,188.30 265.75,188.30 266.31,188.30 266.87,188.30 267.43,188.30 267.98,188.30 268.54,188.30 269.10,188.30 269.66,188.30 270.22,188.30 270.78,188.30 271.34,188.30 271.89,188.30 272.45,188.30 273.01,188.30 273.57,188.30 274.13,188.30 274.69,188.30 275.24,188.30 275.80,188.30 276.36,188.30 276.92,188.30 277.48,188.30 278.04,188.30 278.59,188.30 279.15,188.30 279.71,188.30 280.27,188.30 280.83,188.30 281.39,188.30 281.94,188.30 282.50,188.30 283.06,188.30 283.62,188.30 284.18,188.30 284.74,188.30 285.30,188.30 285.85,188.30 286.41,188.30 286.97,188.30 287.53,188.30 288.09,188.30 288.65,188.30 289.20,188.30 289.76,188.30 290.32,188.30 290.88,188.30 291.44,188.30 292.00,188.30 292.55,188.30 293.11,188.30 293.67,188.30 294.23,188.30 294.79,188.30 295.35,188.30 295.90,188.30 296.46,188.30 297.02,188.30 297.58,188.30 298.14,188.30 298.70,188.30 299.26,188.30 299.81,188.30 300.37,188.30 300.93,188.30 301.49,188.30 302.05,188.30 302.61,188.30 303.16,188.30 303.72,188.30 304.28,188.30 304.84,188.30 305.40,188.30 305.96,188.30 306.51,188.30 307.07,188.30 307.63,188.30 308.19,188.30 308.75,188.30 309.31,188.30 309.86,188.30 310.42,188.30 310.98,188.30 311.54,188.30 312.10,188.30 312.66,188.30 313.22,188.30 313.77,188.30 314.33,188.30 314.89,188.30 315.45,188.30 316.01,188.30 316.57,188.30 317.12,188.30 317.68,188.30 318.24,188.30 318.80,188.30 319.36,188.30 319.92,188.30 320.47,188.30 321.03,188.30 321.59,188.30 322.15,188.30 322.71,188.30 323.27,188.30 323.82,188.30 324.38,188.30 324.94,188.30 325.50,188.30" fill="none" stroke="#adadad" stroke-width="1.4" stroke-linejoin="round" opacity="0.5"/>
<rect x="46.3" y="4.8" width="279.20" height="183.50" fill="none" stroke="#000" stroke-width="0.75" opacity="0.8"/>
<path d="M45.90 188.3H325.90" stroke="#000" stroke-width="1.1" opacity="0.8" fill="none"/>
<text x="127.4" y="18.3" text-anchor="end" class="t">Analytical</text>
<path d="M134.2 14.0H167.5" stroke="#adadad" stroke-width="1.4" fill="none"/>
<text x="127.4" y="30.5" text-anchor="end" class="t">X<tspan dy="4.0" font-size="10.2">1</tspan></text>
<rect x="134.2" y="23.1" width="33.3" height="6.3" fill="none" stroke="#9400d3" stroke-width="0.9" stroke-opacity="0.75"/>
<text x="127.4" y="42.7" text-anchor="end" class="t">Y<tspan dy="4.0" font-size="10.2">1</tspan></text>
<rect x="134.2" y="35.3" width="33.3" height="6.3" fill="none" stroke="#0072b2" stroke-width="0.9" stroke-opacity="0.75"/>
<text x="127.4" y="54.8" text-anchor="end" class="t">X<tspan dy="4.0" font-size="10.2">2</tspan></text>
<rect x="134.2" y="47.4" width="33.3" height="6.3" fill="none" stroke="#e51e10" stroke-width="0.9" stroke-opacity="0.75"/>
<text x="127.4" y="67.3" text-anchor="end" class="t">Y<tspan dy="4.0" font-size="10.2">2</tspan></text>
<rect x="134.2" y="59.9" width="33.3" height="6.3" fill="none" stroke="#000000" stroke-width="0.9" stroke-opacity="0.75"/>
<text x="46.3" y="204.9" text-anchor="middle" class="t">-1</text>
<text x="74.2" y="204.9" text-anchor="middle" class="t">-0.8</text>
<text x="102.1" y="204.9" text-anchor="middle" class="t">-0.6</text>
<text x="130.1" y="204.9" text-anchor="middle" class="t">-0.4</text>
<text x="158.0" y="204.9" text-anchor="middle" class="t">-0.2</text>
<text x="187.6" y="204.9" text-anchor="middle" class="t">0</text>
<text x="215.5" y="204.9" text-anchor="middle" class="t">0.2</text>
<text x="243.4" y="204.9" text-anchor="middle" class="t">0.4</text>
<text x="271.4" y="204.9" text-anchor="middle" class="t">0.6</text>
<text x="299.3" y="204.9" text-anchor="middle" class="t">0.8</text>
<text x="327.2" y="204.9" text-anchor="middle" class="t">1</text>
<text x="38.1" y="192.6" text-anchor="end" class="t">0</text>
<text x="38.1" y="155.9" text-anchor="end" class="t">5</text>
<text x="38.1" y="119.2" text-anchor="end" class="t">10</text>
<text x="38.1" y="82.5" text-anchor="end" class="t">15</text>
<text x="38.1" y="45.8" text-anchor="end" class="t">20</text>
<text x="38.1" y="9.1" text-anchor="end" class="t">25</text>
<text x="185.9" y="221.3" text-anchor="middle" class="t">X<tspan dy="4.3" font-size="10.2">1</tspan><tspan dy="-4.3">, X</tspan><tspan dy="4.3" font-size="10.2">2</tspan><tspan dy="-4.3">, Y</tspan><tspan dy="4.3" font-size="10.2">1</tspan><tspan dy="-4.3">, Y</tspan><tspan dy="4.3" font-size="10.2">2</tspan></text>
<text transform="translate(9.8 96.6) rotate(-90)" text-anchor="middle" class="t">Relative frequency</text>
<path d="M430.82 4.8 V188.3 M458.74 4.8 V188.3 M486.66 4.8 V188.3 M514.58 4.8 V188.3 M542.50 4.8 V188.3 M570.42 4.8 V188.3 M598.34 4.8 V188.3 M626.26 4.8 V188.3 M654.18 4.8 V188.3 M402.90000000000003 151.60 H682.1 M402.90000000000003 114.90 H682.1 M402.90000000000003 78.20 H682.1 M402.90000000000003 41.50 H682.1" fill="none" stroke="#000" stroke-width="0.7" stroke-dasharray="2.1 1.15" opacity="0.62"/>
<rect x="403.50" y="5.3999999999999995" width="127.00" height="64.10" fill="#fff"/>
<path d="M402.90 188.3 v-3.0 M402.90 4.8 v3.0 M430.82 188.3 v-3.0 M430.82 4.8 v3.0 M458.74 188.3 v-3.0 M458.74 4.8 v3.0 M486.66 188.3 v-3.0 M486.66 4.8 v3.0 M514.58 188.3 v-3.0 M514.58 4.8 v3.0 M542.50 188.3 v-3.0 M542.50 4.8 v3.0 M570.42 188.3 v-3.0 M570.42 4.8 v3.0 M598.34 188.3 v-3.0 M598.34 4.8 v3.0 M626.26 188.3 v-3.0 M626.26 4.8 v3.0 M654.18 188.3 v-3.0 M654.18 4.8 v3.0 M682.10 188.3 v-3.0 M682.10 4.8 v3.0 M402.90000000000003 188.30 h3.0 M682.1 188.30 h-3.0 M402.90000000000003 151.60 h3.0 M682.1 151.60 h-3.0 M402.90000000000003 114.90 h3.0 M682.1 114.90 h-3.0 M402.90000000000003 78.20 h3.0 M682.1 78.20 h-3.0 M402.90000000000003 41.50 h3.0 M682.1 41.50 h-3.0 M402.90000000000003 4.80 h3.0 M682.1 4.80 h-3.0" fill="none" stroke="#000" stroke-width="0.6"/>
<polyline points="402.90,188.30 403.46,188.30 404.02,188.30 404.58,188.30 405.13,188.30 405.69,188.30 406.25,188.30 406.81,188.30 407.37,188.30 407.93,188.30 408.48,188.30 409.04,188.30 409.60,188.30 410.16,188.30 410.72,188.30 411.28,188.30 411.83,188.30 412.39,188.30 412.95,188.30 413.51,188.30 414.07,188.30 414.63,188.30 415.18,188.30 415.74,188.30 416.30,188.30 416.86,188.30 417.42,188.30 417.98,188.30 418.54,188.30 419.09,188.30 419.65,188.30 420.21,188.30 420.77,188.30 421.33,188.30 421.89,188.30 422.44,188.30 423.00,188.30 423.56,188.30 424.12,188.30 424.68,188.30 425.24,188.30 425.79,188.30 426.35,188.30 426.91,188.30 427.47,188.30 428.03,188.30 428.59,188.30 429.14,188.30 429.70,188.30 430.26,188.30 430.82,188.30 431.38,188.30 431.94,188.30 432.50,188.30 433.05,188.30 433.61,188.30 434.17,188.30 434.73,188.30 435.29,188.30 435.85,188.30 436.40,188.30 436.96,188.30 437.52,188.30 438.08,188.30 438.64,188.30 439.20,188.30 439.75,188.30 440.31,188.30 440.87,188.30 441.43,188.30 441.99,188.30 442.55,188.30 443.10,188.30 443.66,188.30 444.22,188.30 444.78,188.30 445.34,188.30 445.90,188.30 446.46,188.30 447.01,188.30 447.57,188.30 448.13,188.30 448.69,188.30 449.25,188.30 449.81,188.30 450.36,188.30 450.92,188.30 451.48,188.30 452.04,188.30 452.60,188.30 453.16,188.30 453.71,188.30 454.27,188.30 454.83,188.30 455.39,188.30 455.95,188.30 456.51,188.30 457.06,188.30 457.62,188.30 458.18,188.30 458.74,188.30 459.30,188.30 459.86,188.30 460.42,188.30 460.97,188.30 461.53,188.30 462.09,188.30 462.65,188.30 463.21,188.30 463.77,188.30 464.32,188.30 464.88,188.30 465.44,188.30 466.00,188.30 466.56,188.30 467.12,188.30 467.67,188.30 468.23,188.30 468.79,188.30 469.35,188.30 469.91,188.30 470.47,188.30 471.02,188.30 471.58,188.30 472.14,188.30 472.70,188.30 473.26,188.30 473.82,188.30 474.38,188.30 474.93,188.30 475.49,188.30 476.05,188.30 476.61,188.30 477.17,188.30 477.73,188.30 478.28,188.30 478.84,188.30 479.40,188.30 479.96,188.30 480.52,188.29 481.08,188.29 481.63,188.29 482.19,188.28 482.75,188.27 483.31,188.27 483.87,188.25 484.43,188.24 484.98,188.21 485.54,188.19 486.10,188.15 486.66,188.10 487.22,188.04 487.78,187.96 488.34,187.86 488.89,187.74 489.45,187.59 490.01,187.40 490.57,187.17 491.13,186.88 491.69,186.54 492.24,186.13 492.80,185.64 493.36,185.06 493.92,184.38 494.48,183.58 495.04,182.67 495.59,181.62 496.15,180.42 496.71,179.07 497.27,177.56 497.83,175.88 498.39,174.03 498.94,172.01 499.50,169.82 500.06,167.48 500.62,164.99 501.18,162.38 501.74,159.65 502.30,156.85 502.85,153.99 503.41,151.11 503.97,148.26 504.53,145.46 505.09,142.76 505.65,140.21 506.20,137.84 506.76,135.69 507.32,133.81 507.88,132.23 508.44,130.97 509.00,130.06 509.55,129.52 510.11,129.36 510.67,129.58 511.23,130.18 511.79,131.14 512.35,132.45 512.90,134.08 513.46,136.00 514.02,138.18 514.58,140.58 515.14,143.16 515.70,145.87 516.26,148.68 516.81,151.54 517.37,154.42 517.93,157.27 518.49,160.07 519.05,162.78 519.61,165.37 520.16,167.84 520.72,170.16 521.28,172.32 521.84,174.31 522.40,176.14 522.96,177.79 523.51,179.28 524.07,180.61 524.63,181.78 525.19,182.81 525.75,183.71 526.31,184.49 526.86,185.15 527.42,185.72 527.98,186.19 528.54,186.60 529.10,186.93 529.66,187.20 530.22,187.43 530.77,187.61 531.33,187.76 531.89,187.88 532.45,187.98 533.01,188.05 533.57,188.11 534.12,188.16 534.68,188.19 535.24,188.22 535.80,188.24 536.36,188.25 536.92,188.27 537.47,188.28 538.03,188.28 538.59,188.29 539.15,188.29 539.71,188.29 540.27,188.30 540.82,188.30 541.38,188.30 541.94,188.30 542.50,188.30 543.06,188.30 543.62,188.30 544.18,188.30 544.73,188.30 545.29,188.30 545.85,188.30 546.41,188.30 546.97,188.30 547.53,188.30 548.08,188.30 548.64,188.30 549.20,188.30 549.76,188.30 550.32,188.30 550.88,188.30 551.43,188.30 551.99,188.30 552.55,188.30 553.11,188.30 553.67,188.30 554.23,188.30 554.78,188.30 555.34,188.30 555.90,188.30 556.46,188.30 557.02,188.30 557.58,188.30 558.14,188.30 558.69,188.30 559.25,188.30 559.81,188.30 560.37,188.30 560.93,188.30 561.49,188.30 562.04,188.30 562.60,188.30 563.16,188.30 563.72,188.30 564.28,188.30 564.84,188.30 565.39,188.30 565.95,188.30 566.51,188.30 567.07,188.30 567.63,188.30 568.19,188.30 568.74,188.30 569.30,188.30 569.86,188.30 570.42,188.30 570.98,188.30 571.54,188.30 572.10,188.30 572.65,188.30 573.21,188.30 573.77,188.30 574.33,188.30 574.89,188.30 575.45,188.30 576.00,188.30 576.56,188.30 577.12,188.30 577.68,188.30 578.24,188.30 578.80,188.30 579.35,188.30 579.91,188.30 580.47,188.30 581.03,188.30 581.59,188.30 582.15,188.30 582.70,188.30 583.26,188.30 583.82,188.30 584.38,188.30 584.94,188.30 585.50,188.30 586.06,188.30 586.61,188.30 587.17,188.30 587.73,188.30 588.29,188.30 588.85,188.30 589.41,188.30 589.96,188.30 590.52,188.30 591.08,188.30 591.64,188.30 592.20,188.30 592.76,188.30 593.31,188.30 593.87,188.30 594.43,188.30 594.99,188.30 595.55,188.30 596.11,188.30 596.66,188.30 597.22,188.30 597.78,188.30 598.34,188.30 598.90,188.30 599.46,188.30 600.02,188.30 600.57,188.30 601.13,188.30 601.69,188.30 602.25,188.30 602.81,188.30 603.37,188.30 603.92,188.30 604.48,188.30 605.04,188.30 605.60,188.30 606.16,188.30 606.72,188.30 607.27,188.30 607.83,188.30 608.39,188.30 608.95,188.30 609.51,188.30 610.07,188.30 610.62,188.30 611.18,188.30 611.74,188.30 612.30,188.30 612.86,188.30 613.42,188.30 613.98,188.30 614.53,188.30 615.09,188.30 615.65,188.30 616.21,188.30 616.77,188.30 617.33,188.30 617.88,188.30 618.44,188.30 619.00,188.30 619.56,188.30 620.12,188.30 620.68,188.30 621.23,188.30 621.79,188.30 622.35,188.30 622.91,188.30 623.47,188.30 624.03,188.30 624.58,188.30 625.14,188.30 625.70,188.30 626.26,188.30 626.82,188.30 627.38,188.30 627.94,188.30 628.49,188.30 629.05,188.30 629.61,188.30 630.17,188.30 630.73,188.30 631.29,188.30 631.84,188.30 632.40,188.30 632.96,188.30 633.52,188.30 634.08,188.30 634.64,188.30 635.19,188.30 635.75,188.30 636.31,188.30 636.87,188.30 637.43,188.30 637.99,188.30 638.54,188.30 639.10,188.30 639.66,188.30 640.22,188.30 640.78,188.30 641.34,188.30 641.90,188.30 642.45,188.30 643.01,188.30 643.57,188.30 644.13,188.30 644.69,188.30 645.25,188.30 645.80,188.30 646.36,188.30 646.92,188.30 647.48,188.30 648.04,188.30 648.60,188.30 649.15,188.30 649.71,188.30 650.27,188.30 650.83,188.30 651.39,188.30 651.95,188.30 652.50,188.30 653.06,188.30 653.62,188.30 654.18,188.30 654.74,188.30 655.30,188.30 655.86,188.30 656.41,188.30 656.97,188.30 657.53,188.30 658.09,188.30 658.65,188.30 659.21,188.30 659.76,188.30 660.32,188.30 660.88,188.30 661.44,188.30 662.00,188.30 662.56,188.30 663.11,188.30 663.67,188.30 664.23,188.30 664.79,188.30 665.35,188.30 665.91,188.30 666.46,188.30 667.02,188.30 667.58,188.30 668.14,188.30 668.70,188.30 669.26,188.30 669.82,188.30 670.37,188.30 670.93,188.30 671.49,188.30 672.05,188.30 672.61,188.30 673.17,188.30 673.72,188.30 674.28,188.30 674.84,188.30 675.40,188.30 675.96,188.30 676.52,188.30 677.07,188.30 677.63,188.30 678.19,188.30 678.75,188.30 679.31,188.30 679.87,188.30 680.42,188.30 680.98,188.30 681.54,188.30 682.10,188.30" fill="none" stroke="#adadad" stroke-width="1.4" stroke-linejoin="round"/>
<polyline points="402.90,188.30 403.46,188.30 404.02,188.30 404.58,188.30 405.13,188.30 405.69,188.30 406.25,188.30 406.81,188.30 407.37,188.30 407.93,188.30 408.48,188.30 409.04,188.30 409.60,188.30 410.16,188.30 410.72,188.30 411.28,188.30 411.83,188.30 412.39,188.30 412.95,188.30 413.51,188.30 414.07,188.30 414.63,188.30 415.18,188.30 415.74,188.30 416.30,188.30 416.86,188.30 417.42,188.30 417.98,188.30 418.54,188.30 419.09,188.30 419.65,188.30 420.21,188.30 420.77,188.30 421.33,188.30 421.89,188.30 422.44,188.30 423.00,188.30 423.56,188.30 424.12,188.30 424.68,188.30 425.24,188.30 425.79,188.30 426.35,188.30 426.91,188.30 427.47,188.30 428.03,188.30 428.59,188.30 429.14,188.30 429.70,188.30 430.26,188.30 430.82,188.30 431.38,188.30 431.94,188.30 432.50,188.30 433.05,188.30 433.61,188.30 434.17,188.30 434.73,188.30 435.29,188.30 435.85,188.30 436.40,188.30 436.96,188.30 437.52,188.30 438.08,188.30 438.64,188.30 439.20,188.30 439.75,188.30 440.31,188.30 440.87,188.30 441.43,188.30 441.99,188.30 442.55,188.30 443.10,188.30 443.66,188.30 444.22,188.30 444.78,188.30 445.34,188.30 445.90,188.30 446.46,188.30 447.01,188.30 447.57,188.30 448.13,188.30 448.69,188.30 449.25,188.30 449.81,188.30 450.36,188.30 450.92,188.30 451.48,188.30 452.04,188.30 452.60,188.30 453.16,188.30 453.71,188.30 454.27,188.30 454.83,188.30 455.39,188.30 455.95,188.30 456.51,188.30 457.06,188.30 457.62,188.30 458.18,188.30 458.74,188.30 459.30,188.30 459.86,188.30 460.42,188.30 460.97,188.30 461.53,188.30 462.09,188.30 462.65,188.30 463.21,188.30 463.77,188.30 464.32,188.30 464.88,188.30 465.44,188.30 466.00,188.30 466.56,188.30 467.12,188.30 467.67,188.30 468.23,188.30 468.79,188.30 469.35,188.30 469.91,188.30 470.47,188.30 471.02,188.30 471.58,188.30 472.14,188.30 472.70,188.30 473.26,188.30 473.82,188.30 474.38,188.30 474.93,188.30 475.49,188.30 476.05,188.30 476.61,188.30 477.17,188.30 477.73,188.30 478.28,188.30 478.84,188.30 479.40,188.30 479.96,188.30 480.52,188.30 481.08,188.30 481.63,188.30 482.19,188.30 482.75,188.30 483.31,188.30 483.87,188.30 484.43,188.30 484.98,188.30 485.54,188.30 486.10,188.30 486.66,188.30 487.22,188.30 487.78,188.30 488.34,188.30 488.89,188.30 489.45,188.30 490.01,188.30 490.57,188.30 491.13,188.30 491.69,188.30 492.24,188.30 492.80,188.30 493.36,188.30 493.92,188.30 494.48,188.30 495.04,188.30 495.59,188.30 496.15,188.30 496.71,188.30 497.27,188.30 497.83,188.30 498.39,188.30 498.94,188.30 499.50,188.30 500.06,188.30 500.62,188.30 501.18,188.30 501.74,188.30 502.30,188.30 502.85,188.30 503.41,188.30 503.97,188.30 504.53,188.30 505.09,188.30 505.65,188.30 506.20,188.30 506.76,188.30 507.32,188.30 507.88,188.30 508.44,188.30 509.00,188.30 509.55,188.30 510.11,188.30 510.67,188.30 511.23,188.30 511.79,188.30 512.35,188.30 512.90,188.30 513.46,188.30 514.02,188.30 514.58,188.30 515.14,188.30 515.70,188.30 516.26,188.30 516.81,188.30 517.37,188.30 517.93,188.30 518.49,188.30 519.05,188.30 519.61,188.30 520.16,188.30 520.72,188.30 521.28,188.30 521.84,188.30 522.40,188.30 522.96,188.30 523.51,188.30 524.07,188.30 524.63,188.30 525.19,188.30 525.75,188.30 526.31,188.30 526.86,188.30 527.42,188.30 527.98,188.30 528.54,188.30 529.10,188.30 529.66,188.30 530.22,188.30 530.77,188.30 531.33,188.30 531.89,188.30 532.45,188.30 533.01,188.30 533.57,188.30 534.12,188.30 534.68,188.30 535.24,188.30 535.80,188.30 536.36,188.30 536.92,188.30 537.47,188.30 538.03,188.30 538.59,188.30 539.15,188.30 539.71,188.30 540.27,188.30 540.82,188.30 541.38,188.30 541.94,188.30 542.50,188.30 543.06,188.30 543.62,188.30 544.18,188.30 544.73,188.30 545.29,188.30 545.85,188.30 546.41,188.30 546.97,188.30 547.53,188.30 548.08,188.30 548.64,188.30 549.20,188.30 549.76,188.30 550.32,188.30 550.88,188.30 551.43,188.30 551.99,188.30 552.55,188.30 553.11,188.30 553.67,188.30 554.23,188.30 554.78,188.30 555.34,188.30 555.90,188.30 556.46,188.30 557.02,188.30 557.58,188.30 558.14,188.30 558.69,188.30 559.25,188.30 559.81,188.30 560.37,188.30 560.93,188.30 561.49,188.30 562.04,188.30 562.60,188.30 563.16,188.30 563.72,188.30 564.28,188.30 564.84,188.30 565.39,188.30 565.95,188.30 566.51,188.30 567.07,188.30 567.63,188.30 568.19,188.30 568.74,188.30 569.30,188.30 569.86,188.30 570.42,188.30 570.98,188.30 571.54,188.30 572.10,188.30 572.65,188.30 573.21,188.30 573.77,188.30 574.33,188.30 574.89,188.30 575.45,188.30 576.00,188.30 576.56,188.30 577.12,188.30 577.68,188.30 578.24,188.30 578.80,188.30 579.35,188.30 579.91,188.30 580.47,188.30 581.03,188.30 581.59,188.30 582.15,188.30 582.70,188.30 583.26,188.30 583.82,188.30 584.38,188.30 584.94,188.30 585.50,188.30 586.06,188.30 586.61,188.30 587.17,188.30 587.73,188.30 588.29,188.30 588.85,188.30 589.41,188.30 589.96,188.30 590.52,188.30 591.08,188.30 591.64,188.30 592.20,188.30 592.76,188.30 593.31,188.30 593.87,188.30 594.43,188.30 594.99,188.30 595.55,188.30 596.11,188.30 596.66,188.30 597.22,188.30 597.78,188.30 598.34,188.30 598.90,188.30 599.46,188.30 600.02,188.30 600.57,188.30 601.13,188.30 601.69,188.30 602.25,188.30 602.81,188.30 603.37,188.30 603.92,188.30 604.48,188.30 605.04,188.30 605.60,188.30 606.16,188.30 606.72,188.30 607.27,188.30 607.83,188.30 608.39,188.30 608.95,188.30 609.51,188.30 610.07,188.30 610.62,188.30 611.18,188.30 611.74,188.30 612.30,188.30 612.86,188.30 613.42,188.30 613.98,188.30 614.53,188.30 615.09,188.30 615.65,188.30 616.21,188.30 616.77,188.30 617.33,188.30 617.88,188.30 618.44,188.30 619.00,188.30 619.56,188.30 620.12,188.30 620.68,188.30 621.23,188.30 621.79,188.30 622.35,188.30 622.91,188.30 623.47,188.30 624.03,188.30 624.58,188.30 625.14,188.30 625.70,188.30 626.26,188.30 626.82,188.30 627.38,188.30 627.94,188.30 628.49,188.30 629.05,188.30 629.61,188.30 630.17,188.30 630.73,188.30 631.29,188.30 631.84,188.30 632.40,188.29 632.96,188.29 633.52,188.29 634.08,188.29 634.64,188.28 635.19,188.27 635.75,188.27 636.31,188.25 636.87,188.24 637.43,188.22 637.99,188.20 638.54,188.16 639.10,188.12 639.66,188.07 640.22,188.01 640.78,187.93 641.34,187.83 641.90,187.71 642.45,187.56 643.01,187.38 643.57,187.16 644.13,186.89 644.69,186.58 645.25,186.21 645.80,185.77 646.36,185.25 646.92,184.65 647.48,183.96 648.04,183.17 648.60,182.27 649.15,181.25 649.71,180.10 650.27,178.83 650.83,177.41 651.39,175.85 651.95,174.16 652.50,172.32 653.06,170.34 653.62,168.24 654.18,166.02 654.74,163.69 655.30,161.27 655.86,158.78 656.41,156.25 656.97,153.70 657.53,151.16 658.09,148.65 658.65,146.22 659.21,143.89 659.76,141.71 660.32,139.69 660.88,137.87 661.44,136.28 662.00,134.94 662.56,133.88 663.11,133.12 663.67,132.66 664.23,132.52 664.79,132.69 665.35,133.18 665.91,133.97 666.46,135.06 667.02,136.42 667.58,138.04 668.14,139.88 668.70,141.92 669.26,144.12 669.82,146.46 670.37,148.90 670.93,151.41 671.49,153.95 672.05,156.51 672.61,159.03 673.17,161.52 673.72,163.92 674.28,166.24 674.84,168.46 675.40,170.55 675.96,172.51 676.52,174.33 677.07,176.02 677.63,177.56 678.19,178.96 678.75,180.22 679.31,181.36 679.87,182.37 680.42,183.26 680.98,184.04 681.54,184.72 682.10,185.31" fill="none" stroke="#adadad" stroke-width="1.4" stroke-linejoin="round"/>
<polyline points="402.90,188.30 403.46,188.30 404.02,188.30 404.58,188.30 405.13,188.30 405.69,188.30 406.25,188.30 406.81,188.30 407.37,188.30 407.93,188.30 408.48,188.30 409.04,188.30 409.60,188.30 410.16,188.30 410.72,188.30 411.28,188.30 411.83,188.30 412.39,188.30 412.95,188.30 413.51,188.30 414.07,188.30 414.63,188.30 415.18,188.30 415.74,188.30 416.30,188.30 416.86,188.30 417.42,188.30 417.98,188.30 418.54,188.30 419.09,188.30 419.65,188.30 420.21,188.30 420.77,188.30 421.33,188.30 421.89,188.30 422.44,188.30 423.00,188.30 423.56,188.30 424.12,188.30 424.68,188.30 425.24,188.30 425.79,188.30 426.35,188.30 426.91,188.30 427.47,188.30 428.03,188.30 428.59,188.30 429.14,188.29 429.70,188.29 430.26,188.29 430.82,188.29 431.38,188.28 431.94,188.28 432.50,188.27 433.05,188.26 433.61,188.25 434.17,188.23 434.73,188.22 435.29,188.19 435.85,188.17 436.40,188.13 436.96,188.09 437.52,188.04 438.08,187.98 438.64,187.90 439.20,187.81 439.75,187.71 440.31,187.58 440.87,187.43 441.43,187.25 441.99,187.04 442.55,186.80 443.10,186.51 443.66,186.19 444.22,185.81 444.78,185.38 445.34,184.89 445.90,184.34 446.46,183.71 447.01,183.01 447.57,182.23 448.13,181.37 448.69,180.42 449.25,179.37 449.81,178.23 450.36,177.00 450.92,175.67 451.48,174.25 452.04,172.74 452.60,171.14 453.16,169.46 453.71,167.70 454.27,165.88 454.83,164.01 455.39,162.09 455.95,160.15 456.51,158.19 457.06,156.24 457.62,154.32 458.18,152.44 458.74,150.62 459.30,148.88 459.86,147.24 460.42,145.72 460.97,144.34 461.53,143.12 462.09,142.06 462.65,141.19 463.21,140.51 463.77,140.04 464.32,139.77 464.88,139.72 465.44,139.88 466.00,140.25 466.56,140.83 467.12,141.60 467.67,142.57 468.23,143.71 468.79,145.02 469.35,146.47 469.91,148.05 470.47,149.74 471.02,151.52 471.58,153.37 472.14,155.28 472.70,157.22 473.26,159.17 473.82,161.12 474.38,163.05 474.93,164.95 475.49,166.80 476.05,168.59 476.61,170.31 477.17,171.95 477.73,173.51 478.28,174.98 478.84,176.35 479.40,177.63 479.96,178.82 480.52,179.91 481.08,180.90 481.63,181.81 482.19,182.63 482.75,183.37 483.31,184.03 483.87,184.62 484.43,185.14 484.98,185.60 485.54,186.01 486.10,186.36 486.66,186.66 487.22,186.92 487.78,187.15 488.34,187.34 488.89,187.51 489.45,187.65 490.01,187.76 490.57,187.86 491.13,187.94 491.69,188.01 492.24,188.07 492.80,188.11 493.36,188.15 493.92,188.18 494.48,188.21 495.04,188.23 495.59,188.24 496.15,188.25 496.71,188.26 497.27,188.27 497.83,188.28 498.39,188.28 498.94,188.29 499.50,188.29 500.06,188.29 500.62,188.29 501.18,188.30 501.74,188.30 502.30,188.30 502.85,188.30 503.41,188.30 503.97,188.30 504.53,188.30 505.09,188.30 505.65,188.30 506.20,188.30 506.76,188.30 507.32,188.30 507.88,188.30 508.44,188.30 509.00,188.30 509.55,188.30 510.11,188.30 510.67,188.30 511.23,188.30 511.79,188.30 512.35,188.30 512.90,188.30 513.46,188.30 514.02,188.30 514.58,188.30 515.14,188.30 515.70,188.30 516.26,188.30 516.81,188.30 517.37,188.30 517.93,188.30 518.49,188.30 519.05,188.30 519.61,188.30 520.16,188.30 520.72,188.30 521.28,188.30 521.84,188.30 522.40,188.30 522.96,188.30 523.51,188.30 524.07,188.30 524.63,188.30 525.19,188.30 525.75,188.30 526.31,188.30 526.86,188.30 527.42,188.30 527.98,188.30 528.54,188.30 529.10,188.30 529.66,188.30 530.22,188.30 530.77,188.30 531.33,188.30 531.89,188.30 532.45,188.30 533.01,188.30 533.57,188.30 534.12,188.30 534.68,188.30 535.24,188.30 535.80,188.30 536.36,188.30 536.92,188.30 537.47,188.30 538.03,188.30 538.59,188.30 539.15,188.30 539.71,188.30 540.27,188.30 540.82,188.30 541.38,188.30 541.94,188.30 542.50,188.30 543.06,188.30 543.62,188.30 544.18,188.30 544.73,188.30 545.29,188.30 545.85,188.30 546.41,188.30 546.97,188.30 547.53,188.30 548.08,188.30 548.64,188.30 549.20,188.30 549.76,188.30 550.32,188.30 550.88,188.30 551.43,188.30 551.99,188.30 552.55,188.30 553.11,188.30 553.67,188.30 554.23,188.30 554.78,188.30 555.34,188.30 555.90,188.30 556.46,188.30 557.02,188.30 557.58,188.30 558.14,188.30 558.69,188.30 559.25,188.30 559.81,188.30 560.37,188.30 560.93,188.30 561.49,188.30 562.04,188.30 562.60,188.30 563.16,188.30 563.72,188.30 564.28,188.30 564.84,188.30 565.39,188.30 565.95,188.30 566.51,188.30 567.07,188.30 567.63,188.30 568.19,188.30 568.74,188.30 569.30,188.30 569.86,188.30 570.42,188.30 570.98,188.30 571.54,188.30 572.10,188.30 572.65,188.30 573.21,188.30 573.77,188.30 574.33,188.30 574.89,188.30 575.45,188.30 576.00,188.30 576.56,188.30 577.12,188.30 577.68,188.30 578.24,188.30 578.80,188.30 579.35,188.30 579.91,188.30 580.47,188.30 581.03,188.30 581.59,188.30 582.15,188.30 582.70,188.30 583.26,188.30 583.82,188.30 584.38,188.30 584.94,188.30 585.50,188.30 586.06,188.30 586.61,188.30 587.17,188.30 587.73,188.30 588.29,188.30 588.85,188.30 589.41,188.30 589.96,188.30 590.52,188.30 591.08,188.30 591.64,188.30 592.20,188.30 592.76,188.30 593.31,188.30 593.87,188.30 594.43,188.30 594.99,188.30 595.55,188.30 596.11,188.30 596.66,188.30 597.22,188.30 597.78,188.30 598.34,188.30 598.90,188.30 599.46,188.30 600.02,188.30 600.57,188.30 601.13,188.30 601.69,188.30 602.25,188.30 602.81,188.30 603.37,188.30 603.92,188.30 604.48,188.30 605.04,188.30 605.60,188.30 606.16,188.30 606.72,188.30 607.27,188.30 607.83,188.30 608.39,188.30 608.95,188.30 609.51,188.30 610.07,188.30 610.62,188.30 611.18,188.30 611.74,188.30 612.30,188.30 612.86,188.30 613.42,188.30 613.98,188.30 614.53,188.30 615.09,188.30 615.65,188.30 616.21,188.30 616.77,188.30 617.33,188.30 617.88,188.30 618.44,188.30 619.00,188.30 619.56,188.30 620.12,188.30 620.68,188.30 621.23,188.30 621.79,188.30 622.35,188.30 622.91,188.30 623.47,188.30 624.03,188.30 624.58,188.30 625.14,188.30 625.70,188.30 626.26,188.30 626.82,188.30 627.38,188.30 627.94,188.30 628.49,188.30 629.05,188.30 629.61,188.30 630.17,188.30 630.73,188.30 631.29,188.30 631.84,188.30 632.40,188.30 632.96,188.30 633.52,188.30 634.08,188.30 634.64,188.30 635.19,188.30 635.75,188.30 636.31,188.30 636.87,188.30 637.43,188.30 637.99,188.30 638.54,188.30 639.10,188.30 639.66,188.30 640.22,188.30 640.78,188.30 641.34,188.30 641.90,188.30 642.45,188.30 643.01,188.30 643.57,188.30 644.13,188.30 644.69,188.30 645.25,188.30 645.80,188.30 646.36,188.30 646.92,188.30 647.48,188.30 648.04,188.30 648.60,188.30 649.15,188.30 649.71,188.30 650.27,188.30 650.83,188.30 651.39,188.30 651.95,188.30 652.50,188.30 653.06,188.30 653.62,188.30 654.18,188.30 654.74,188.30 655.30,188.30 655.86,188.30 656.41,188.30 656.97,188.30 657.53,188.30 658.09,188.30 658.65,188.30 659.21,188.30 659.76,188.30 660.32,188.30 660.88,188.30 661.44,188.30 662.00,188.30 662.56,188.30 663.11,188.30 663.67,188.30 664.23,188.30 664.79,188.30 665.35,188.30 665.91,188.30 666.46,188.30 667.02,188.30 667.58,188.30 668.14,188.30 668.70,188.30 669.26,188.30 669.82,188.30 670.37,188.30 670.93,188.30 671.49,188.30 672.05,188.30 672.61,188.30 673.17,188.30 673.72,188.30 674.28,188.30 674.84,188.30 675.40,188.30 675.96,188.30 676.52,188.30 677.07,188.30 677.63,188.30 678.19,188.30 678.75,188.30 679.31,188.30 679.87,188.30 680.42,188.30 680.98,188.30 681.54,188.30 682.10,188.30" fill="none" stroke="#adadad" stroke-width="1.4" stroke-linejoin="round"/>
<polyline points="402.90,188.30 403.46,188.30 404.02,188.30 404.58,188.30 405.13,188.30 405.69,188.30 406.25,188.30 406.81,188.30 407.37,188.30 407.93,188.30 408.48,188.30 409.04,188.30 409.60,188.30 410.16,188.30 410.72,188.30 411.28,188.30 411.83,188.30 412.39,188.30 412.95,188.30 413.51,188.30 414.07,188.30 414.63,188.30 415.18,188.30 415.74,188.30 416.30,188.30 416.86,188.30 417.42,188.30 417.98,188.30 418.54,188.30 419.09,188.30 419.65,188.30 420.21,188.30 420.77,188.30 421.33,188.30 421.89,188.30 422.44,188.30 423.00,188.30 423.56,188.30 424.12,188.30 424.68,188.30 425.24,188.30 425.79,188.30 426.35,188.30 426.91,188.30 427.47,188.30 428.03,188.30 428.59,188.30 429.14,188.30 429.70,188.30 430.26,188.30 430.82,188.30 431.38,188.30 431.94,188.30 432.50,188.30 433.05,188.30 433.61,188.30 434.17,188.30 434.73,188.30 435.29,188.30 435.85,188.30 436.40,188.30 436.96,188.30 437.52,188.30 438.08,188.30 438.64,188.30 439.20,188.30 439.75,188.30 440.31,188.30 440.87,188.30 441.43,188.30 441.99,188.30 442.55,188.30 443.10,188.30 443.66,188.30 444.22,188.30 444.78,188.30 445.34,188.30 445.90,188.30 446.46,188.30 447.01,188.30 447.57,188.30 448.13,188.30 448.69,188.30 449.25,188.30 449.81,188.30 450.36,188.30 450.92,188.30 451.48,188.30 452.04,188.30 452.60,188.30 453.16,188.29 453.71,188.29 454.27,188.29 454.83,188.29 455.39,188.29 455.95,188.28 456.51,188.28 457.06,188.28 457.62,188.27 458.18,188.26 458.74,188.26 459.30,188.25 459.86,188.23 460.42,188.22 460.97,188.20 461.53,188.19 462.09,188.16 462.65,188.14 463.21,188.11 463.77,188.07 464.32,188.03 464.88,187.98 465.44,187.92 466.00,187.86 466.56,187.78 467.12,187.69 467.67,187.59 468.23,187.48 468.79,187.35 469.35,187.21 469.91,187.04 470.47,186.86 471.02,186.65 471.58,186.41 472.14,186.16 472.70,185.87 473.26,185.55 473.82,185.19 474.38,184.80 474.93,184.38 475.49,183.91 476.05,183.40 476.61,182.85 477.17,182.26 477.73,181.61 478.28,180.92 478.84,180.19 479.40,179.40 479.96,178.56 480.52,177.68 481.08,176.74 481.63,175.76 482.19,174.74 482.75,173.67 483.31,172.56 483.87,171.42 484.43,170.24 484.98,169.04 485.54,167.81 486.10,166.57 486.66,165.31 487.22,164.05 487.78,162.80 488.34,161.55 488.89,160.32 489.45,159.12 490.01,157.95 490.57,156.82 491.13,155.74 491.69,154.72 492.24,153.77 492.80,152.88 493.36,152.08 493.92,151.36 494.48,150.73 495.04,150.20 495.59,149.77 496.15,149.45 496.71,149.23 497.27,149.12 497.83,149.12 498.39,149.23 498.94,149.45 499.50,149.77 500.06,150.20 500.62,150.73 501.18,151.36 501.74,152.08 502.30,152.88 502.85,153.77 503.41,154.72 503.97,155.74 504.53,156.82 505.09,157.95 505.65,159.12 506.20,160.32 506.76,161.55 507.32,162.80 507.88,164.05 508.44,165.31 509.00,166.57 509.55,167.81 510.11,169.04 510.67,170.24 511.23,171.42 511.79,172.56 512.35,173.67 512.90,174.74 513.46,175.76 514.02,176.74 514.58,177.68 515.14,178.56 515.70,179.40 516.26,180.19 516.81,180.92 517.37,181.61 517.93,182.26 518.49,182.85 519.05,183.40 519.61,183.91 520.16,184.38 520.72,184.80 521.28,185.19 521.84,185.55 522.40,185.87 522.96,186.16 523.51,186.41 524.07,186.65 524.63,186.86 525.19,187.04 525.75,187.21 526.31,187.35 526.86,187.48 527.42,187.59 527.98,187.69 528.54,187.78 529.10,187.86 529.66,187.92 530.22,187.98 530.77,188.03 531.33,188.07 531.89,188.11 532.45,188.14 533.01,188.16 533.57,188.19 534.12,188.20 534.68,188.22 535.24,188.23 535.80,188.25 536.36,188.26 536.92,188.26 537.47,188.27 538.03,188.28 538.59,188.28 539.15,188.28 539.71,188.29 540.27,188.29 540.82,188.29 541.38,188.29 541.94,188.29 542.50,188.30 543.06,188.30 543.62,188.30 544.18,188.30 544.73,188.30 545.29,188.30 545.85,188.30 546.41,188.30 546.97,188.30 547.53,188.30 548.08,188.30 548.64,188.30 549.20,188.30 549.76,188.30 550.32,188.30 550.88,188.30 551.43,188.30 551.99,188.30 552.55,188.30 553.11,188.30 553.67,188.30 554.23,188.30 554.78,188.30 555.34,188.30 555.90,188.30 556.46,188.30 557.02,188.30 557.58,188.30 558.14,188.30 558.69,188.30 559.25,188.30 559.81,188.30 560.37,188.30 560.93,188.30 561.49,188.30 562.04,188.30 562.60,188.30 563.16,188.30 563.72,188.30 564.28,188.30 564.84,188.30 565.39,188.30 565.95,188.30 566.51,188.30 567.07,188.30 567.63,188.30 568.19,188.30 568.74,188.30 569.30,188.30 569.86,188.30 570.42,188.30 570.98,188.30 571.54,188.30 572.10,188.30 572.65,188.30 573.21,188.30 573.77,188.30 574.33,188.30 574.89,188.30 575.45,188.30 576.00,188.30 576.56,188.30 577.12,188.30 577.68,188.30 578.24,188.30 578.80,188.30 579.35,188.30 579.91,188.30 580.47,188.30 581.03,188.30 581.59,188.30 582.15,188.30 582.70,188.30 583.26,188.30 583.82,188.30 584.38,188.30 584.94,188.30 585.50,188.30 586.06,188.30 586.61,188.30 587.17,188.30 587.73,188.30 588.29,188.30 588.85,188.30 589.41,188.30 589.96,188.30 590.52,188.30 591.08,188.30 591.64,188.30 592.20,188.30 592.76,188.30 593.31,188.30 593.87,188.30 594.43,188.30 594.99,188.30 595.55,188.30 596.11,188.30 596.66,188.30 597.22,188.30 597.78,188.30 598.34,188.30 598.90,188.30 599.46,188.30 600.02,188.30 600.57,188.30 601.13,188.30 601.69,188.30 602.25,188.30 602.81,188.30 603.37,188.30 603.92,188.30 604.48,188.30 605.04,188.30 605.60,188.30 606.16,188.30 606.72,188.30 607.27,188.30 607.83,188.30 608.39,188.30 608.95,188.30 609.51,188.30 610.07,188.30 610.62,188.30 611.18,188.30 611.74,188.30 612.30,188.30 612.86,188.30 613.42,188.30 613.98,188.30 614.53,188.30 615.09,188.30 615.65,188.30 616.21,188.30 616.77,188.30 617.33,188.30 617.88,188.30 618.44,188.30 619.00,188.30 619.56,188.30 620.12,188.30 620.68,188.30 621.23,188.30 621.79,188.30 622.35,188.30 622.91,188.30 623.47,188.30 624.03,188.30 624.58,188.30 625.14,188.30 625.70,188.30 626.26,188.30 626.82,188.30 627.38,188.30 627.94,188.30 628.49,188.30 629.05,188.30 629.61,188.30 630.17,188.30 630.73,188.30 631.29,188.30 631.84,188.30 632.40,188.30 632.96,188.30 633.52,188.30 634.08,188.30 634.64,188.30 635.19,188.30 635.75,188.30 636.31,188.30 636.87,188.30 637.43,188.30 637.99,188.30 638.54,188.30 639.10,188.30 639.66,188.30 640.22,188.30 640.78,188.30 641.34,188.30 641.90,188.30 642.45,188.30 643.01,188.30 643.57,188.30 644.13,188.30 644.69,188.30 645.25,188.30 645.80,188.30 646.36,188.30 646.92,188.30 647.48,188.30 648.04,188.30 648.60,188.30 649.15,188.30 649.71,188.30 650.27,188.30 650.83,188.30 651.39,188.30 651.95,188.30 652.50,188.30 653.06,188.30 653.62,188.30 654.18,188.30 654.74,188.30 655.30,188.30 655.86,188.30 656.41,188.30 656.97,188.30 657.53,188.30 658.09,188.30 658.65,188.30 659.21,188.30 659.76,188.30 660.32,188.30 660.88,188.30 661.44,188.30 662.00,188.30 662.56,188.30 663.11,188.30 663.67,188.30 664.23,188.30 664.79,188.30 665.35,188.30 665.91,188.30 666.46,188.30 667.02,188.30 667.58,188.30 668.14,188.30 668.70,188.30 669.26,188.30 669.82,188.30 670.37,188.30 670.93,188.30 671.49,188.30 672.05,188.30 672.61,188.30 673.17,188.30 673.72,188.30 674.28,188.30 674.84,188.30 675.40,188.30 675.96,188.30 676.52,188.30 677.07,188.30 677.63,188.30 678.19,188.30 678.75,188.30 679.31,188.30 679.87,188.30 680.42,188.30 680.98,188.30 681.54,188.30 682.10,188.30" fill="none" stroke="#adadad" stroke-width="1.4" stroke-linejoin="round"/>
<path d="M483.50 188.3V188.25H485.50V188.3ZM485.50 188.3V188.15H487.50V188.3ZM487.50 188.3V187.92H489.50V188.3ZM489.50 188.3V187.38H491.50V188.3ZM491.50 188.3V186.25H493.50V188.3ZM493.50 188.3V184.22H495.50V188.3ZM495.50 188.3V180.70H497.50V188.3ZM497.50 188.3V174.96H499.50V188.3ZM499.50 188.3V167.57H501.50V188.3ZM501.50 188.3V158.11H503.50V188.3ZM503.50 188.3V147.65H505.50V188.3ZM505.50 188.3V138.12H507.50V188.3ZM507.50 188.3V132.59H509.50V188.3ZM509.50 188.3V129.65H511.50V188.3ZM511.50 188.3V131.87H513.50V188.3ZM513.50 188.3V138.41H515.50V188.3ZM515.50 188.3V148.10H517.50V188.3ZM517.50 188.3V157.90H519.50V188.3ZM519.50 188.3V167.16H521.50V188.3ZM521.50 188.3V175.14H523.50V188.3ZM523.50 188.3V180.59H525.50V188.3ZM525.50 188.3V184.22H527.50V188.3ZM527.50 188.3V186.28H529.50V188.3ZM529.50 188.3V187.37H531.50V188.3ZM531.50 188.3V187.92H533.50V188.3ZM533.50 188.3V188.15H535.50V188.3ZM535.50 188.3V188.25H537.50V188.3Z" fill="#dfb2f2" fill-opacity="0.85"/><path d="M483.50 188.3V188.25M483.50 188.25H485.50M485.50 188.3V188.15M485.50 188.15H487.50M487.50 188.3V187.92M487.50 187.92H489.50M489.50 188.3V187.38M489.50 187.38H491.50M491.50 188.3V186.25M491.50 186.25H493.50M493.50 188.3V184.22M493.50 184.22H495.50M495.50 188.3V180.70M495.50 180.70H497.50M497.50 188.3V174.96M497.50 174.96H499.50M499.50 188.3V167.57M499.50 167.57H501.50M501.50 188.3V158.11M501.50 158.11H503.50M503.50 188.3V147.65M503.50 147.65H505.50M505.50 188.3V138.12M505.50 138.12H507.50M507.50 188.3V132.59M507.50 132.59H509.50M509.50 188.3V129.65M509.50 129.65H511.50M511.50 188.3V129.65M511.50 131.87H513.50M513.50 188.3V131.87M513.50 138.41H515.50M515.50 188.3V138.41M515.50 148.10H517.50M517.50 188.3V148.10M517.50 157.90H519.50M519.50 188.3V157.90M519.50 167.16H521.50M521.50 188.3V167.16M521.50 175.14H523.50M523.50 188.3V175.14M523.50 180.59H525.50M525.50 188.3V180.59M525.50 184.22H527.50M527.50 188.3V184.22M527.50 186.28H529.50M529.50 188.3V186.28M529.50 187.37H531.50M531.50 188.3V187.37M531.50 187.92H533.50M533.50 188.3V187.92M533.50 188.15H535.50M535.50 188.3V188.15M535.50 188.25H537.50M537.50 188.3V188.25" fill="none" stroke="#9400d3" stroke-width="1.0" stroke-opacity="0.6"/>
<path d="M635.50 188.3V188.23H637.50V188.3ZM637.50 188.3V188.12H639.50V188.3ZM639.50 188.3V187.88H641.50V188.3ZM641.50 188.3V187.38H643.50V188.3ZM643.50 188.3V186.42H645.50V188.3ZM645.50 188.3V184.73H647.50V188.3ZM647.50 188.3V182.00H649.50V188.3ZM649.50 188.3V177.71H651.50V188.3ZM651.50 188.3V172.08H653.50V188.3ZM653.50 188.3V164.41H655.50V188.3ZM655.50 188.3V155.74H657.50V188.3ZM657.50 188.3V147.26H659.50V188.3ZM659.50 188.3V139.50H661.50V188.3ZM661.50 188.3V133.63H663.50V188.3ZM663.50 188.3V131.86H665.50V188.3ZM665.50 188.3V135.22H667.50V188.3ZM667.50 188.3V140.10H669.50V188.3ZM669.50 188.3V148.78H671.50V188.3ZM671.50 188.3V158.67H673.50V188.3ZM673.50 188.3V167.19H675.50V188.3ZM675.50 188.3V174.56H677.50V188.3ZM677.50 188.3V180.03H679.50V188.3ZM679.50 188.3V183.61H681.50V188.3Z" fill="#b2d5e8" fill-opacity="0.85"/><path d="M635.50 188.3V188.23M635.50 188.23H637.50M637.50 188.3V188.12M637.50 188.12H639.50M639.50 188.3V187.88M639.50 187.88H641.50M641.50 188.3V187.38M641.50 187.38H643.50M643.50 188.3V186.42M643.50 186.42H645.50M645.50 188.3V184.73M645.50 184.73H647.50M647.50 188.3V182.00M647.50 182.00H649.50M649.50 188.3V177.71M649.50 177.71H651.50M651.50 188.3V172.08M651.50 172.08H653.50M653.50 188.3V164.41M653.50 164.41H655.50M655.50 188.3V155.74M655.50 155.74H657.50M657.50 188.3V147.26M657.50 147.26H659.50M659.50 188.3V139.50M659.50 139.50H661.50M661.50 188.3V133.63M661.50 133.63H663.50M663.50 188.3V131.86M663.50 131.86H665.50M665.50 188.3V131.86M665.50 135.22H667.50M667.50 188.3V135.22M667.50 140.10H669.50M669.50 188.3V140.10M669.50 148.78H671.50M671.50 188.3V148.78M671.50 158.67H673.50M673.50 188.3V158.67M673.50 167.19H675.50M675.50 188.3V167.19M675.50 174.56H677.50M677.50 188.3V174.56M677.50 180.03H679.50M679.50 188.3V180.03M679.50 183.61H681.50M681.50 188.3V183.61" fill="none" stroke="#0072b2" stroke-width="1.0" stroke-opacity="0.6"/>
<path d="M432.50 188.3V188.26H434.50V188.3ZM434.50 188.3V188.21H436.50V188.3ZM436.50 188.3V188.11H438.50V188.3ZM438.50 188.3V187.88H440.50V188.3ZM440.50 188.3V187.48H442.50V188.3ZM442.50 188.3V186.71H444.50V188.3ZM444.50 188.3V185.40H446.50V188.3ZM446.50 188.3V183.29H448.50V188.3ZM448.50 188.3V180.42H450.50V188.3ZM450.50 188.3V176.19H452.50V188.3ZM452.50 188.3V170.52H454.50V188.3ZM454.50 188.3V164.58H456.50V188.3ZM456.50 188.3V157.47H458.50V188.3ZM458.50 188.3V150.80H460.50V188.3ZM460.50 188.3V144.66H462.50V188.3ZM462.50 188.3V140.45H464.50V188.3ZM464.50 188.3V140.18H466.50V188.3ZM466.50 188.3V140.72H468.50V188.3ZM468.50 188.3V144.59H470.50V188.3ZM470.50 188.3V150.23H472.50V188.3ZM472.50 188.3V157.32H474.50V188.3ZM474.50 188.3V164.00H476.50V188.3ZM476.50 188.3V170.78H478.50V188.3ZM478.50 188.3V176.14H480.50V188.3ZM480.50 188.3V180.38H482.50V188.3ZM482.50 188.3V183.32H484.50V188.3ZM484.50 188.3V185.41H486.50V188.3ZM486.50 188.3V186.71H488.50V188.3ZM488.50 188.3V187.47H490.50V188.3ZM490.50 188.3V187.89H492.50V188.3ZM492.50 188.3V188.11H494.50V188.3ZM494.50 188.3V188.21H496.50V188.3ZM496.50 188.3V188.26H498.50V188.3Z" fill="#f7bcb7" fill-opacity="0.85"/><path d="M432.50 188.3V188.26M432.50 188.26H434.50M434.50 188.3V188.21M434.50 188.21H436.50M436.50 188.3V188.11M436.50 188.11H438.50M438.50 188.3V187.88M438.50 187.88H440.50M440.50 188.3V187.48M440.50 187.48H442.50M442.50 188.3V186.71M442.50 186.71H444.50M444.50 188.3V185.40M444.50 185.40H446.50M446.50 188.3V183.29M446.50 183.29H448.50M448.50 188.3V180.42M448.50 180.42H450.50M450.50 188.3V176.19M450.50 176.19H452.50M452.50 188.3V170.52M452.50 170.52H454.50M454.50 188.3V164.58M454.50 164.58H456.50M456.50 188.3V157.47M456.50 157.47H458.50M458.50 188.3V150.80M458.50 150.80H460.50M460.50 188.3V144.66M460.50 144.66H462.50M462.50 188.3V140.45M462.50 140.45H464.50M464.50 188.3V140.18M464.50 140.18H466.50M466.50 188.3V140.18M466.50 140.72H468.50M468.50 188.3V140.72M468.50 144.59H470.50M470.50 188.3V144.59M470.50 150.23H472.50M472.50 188.3V150.23M472.50 157.32H474.50M474.50 188.3V157.32M474.50 164.00H476.50M476.50 188.3V164.00M476.50 170.78H478.50M478.50 188.3V170.78M478.50 176.14H480.50M480.50 188.3V176.14M480.50 180.38H482.50M482.50 188.3V180.38M482.50 183.32H484.50M484.50 188.3V183.32M484.50 185.41H486.50M486.50 188.3V185.41M486.50 186.71H488.50M488.50 188.3V186.71M488.50 187.47H490.50M490.50 188.3V187.47M490.50 187.89H492.50M492.50 188.3V187.89M492.50 188.11H494.50M494.50 188.3V188.11M494.50 188.21H496.50M496.50 188.3V188.21M496.50 188.26H498.50M498.50 188.3V188.26" fill="none" stroke="#e51e10" stroke-width="1.0" stroke-opacity="0.6"/>
<path d="M459.50 188.3V188.25H461.50V188.3ZM461.50 188.3V188.20H463.50V188.3ZM463.50 188.3V188.11H465.50V188.3ZM465.50 188.3V187.94H467.50V188.3ZM467.50 188.3V187.67H469.50V188.3ZM469.50 188.3V187.23H471.50V188.3ZM471.50 188.3V186.53H473.50V188.3ZM473.50 188.3V185.52H475.50V188.3ZM475.50 188.3V184.08H477.50V188.3ZM477.50 188.3V181.99H479.50V188.3ZM479.50 188.3V179.36H481.50V188.3ZM481.50 188.3V176.06H483.50V188.3ZM483.50 188.3V172.39H485.50V188.3ZM485.50 188.3V167.92H487.50V188.3ZM487.50 188.3V163.62H489.50V188.3ZM489.50 188.3V158.66H491.50V188.3ZM491.50 188.3V154.66H493.50V188.3ZM493.50 188.3V152.11H495.50V188.3ZM495.50 188.3V149.32H497.50V188.3ZM497.50 188.3V149.48H499.50V188.3ZM499.50 188.3V150.29H501.50V188.3ZM501.50 188.3V151.64H503.50V188.3ZM503.50 188.3V155.29H505.50V188.3ZM505.50 188.3V159.08H507.50V188.3ZM507.50 188.3V163.45H509.50V188.3ZM509.50 188.3V168.36H511.50V188.3ZM511.50 188.3V172.27H513.50V188.3ZM513.50 188.3V176.30H515.50V188.3ZM515.50 188.3V179.48H517.50V188.3ZM517.50 188.3V182.10H519.50V188.3ZM519.50 188.3V184.04H521.50V188.3ZM521.50 188.3V185.51H523.50V188.3ZM523.50 188.3V186.56H525.50V188.3ZM525.50 188.3V187.25H527.50V188.3ZM527.50 188.3V187.68H529.50V188.3ZM529.50 188.3V187.95H531.50V188.3ZM531.50 188.3V188.11H533.50V188.3ZM533.50 188.3V188.20H535.50V188.3ZM535.50 188.3V188.25H537.50V188.3Z" fill="#dbdbdb" fill-opacity="0.85"/><path d="M459.50 188.3V188.25M459.50 188.25H461.50M461.50 188.3V188.20M461.50 188.20H463.50M463.50 188.3V188.11M463.50 188.11H465.50M465.50 188.3V187.94M465.50 187.94H467.50M467.50 188.3V187.67M467.50 187.67H469.50M469.50 188.3V187.23M469.50 187.23H471.50M471.50 188.3V186.53M471.50 186.53H473.50M473.50 188.3V185.52M473.50 185.52H475.50M475.50 188.3V184.08M475.50 184.08H477.50M477.50 188.3V181.99M477.50 181.99H479.50M479.50 188.3V179.36M479.50 179.36H481.50M481.50 188.3V176.06M481.50 176.06H483.50M483.50 188.3V172.39M483.50 172.39H485.50M485.50 188.3V167.92M485.50 167.92H487.50M487.50 188.3V163.62M487.50 163.62H489.50M489.50 188.3V158.66M489.50 158.66H491.50M491.50 188.3V154.66M491.50 154.66H493.50M493.50 188.3V152.11M493.50 152.11H495.50M495.50 188.3V149.32M495.50 149.32H497.50M497.50 188.3V149.32M497.50 149.48H499.50M499.50 188.3V149.48M499.50 150.29H501.50M501.50 188.3V150.29M501.50 151.64H503.50M503.50 188.3V151.64M503.50 155.29H505.50M505.50 188.3V155.29M505.50 159.08H507.50M507.50 188.3V159.08M507.50 163.45H509.50M509.50 188.3V163.45M509.50 168.36H511.50M511.50 188.3V168.36M511.50 172.27H513.50M513.50 188.3V172.27M513.50 176.30H515.50M515.50 188.3V176.30M515.50 179.48H517.50M517.50 188.3V179.48M517.50 182.10H519.50M519.50 188.3V182.10M519.50 184.04H521.50M521.50 188.3V184.04M521.50 185.51H523.50M523.50 188.3V185.51M523.50 186.56H525.50M525.50 188.3V186.56M525.50 187.25H527.50M527.50 188.3V187.25M527.50 187.68H529.50M529.50 188.3V187.68M529.50 187.95H531.50M531.50 188.3V187.95M531.50 188.11H533.50M533.50 188.3V188.11M533.50 188.20H535.50M535.50 188.3V188.20M535.50 188.25H537.50M537.50 188.3V188.25" fill="none" stroke="#000000" stroke-width="1.0" stroke-opacity="0.72"/>
<circle cx="487.50" cy="187.92" r="0.75" fill="#9400d3"/><circle cx="489.50" cy="187.38" r="0.75" fill="#9400d3"/><circle cx="491.50" cy="186.25" r="0.75" fill="#9400d3"/><circle cx="493.50" cy="184.22" r="0.75" fill="#9400d3"/><circle cx="495.50" cy="180.70" r="0.75" fill="#9400d3"/><circle cx="497.50" cy="174.96" r="0.75" fill="#9400d3"/><circle cx="499.50" cy="167.57" r="0.75" fill="#9400d3"/><circle cx="501.50" cy="158.11" r="0.75" fill="#9400d3"/>
<circle cx="482.50" cy="180.38" r="0.75" fill="#e51e10"/><circle cx="484.50" cy="183.32" r="0.75" fill="#e51e10"/><circle cx="486.50" cy="185.41" r="0.75" fill="#e51e10"/><circle cx="488.50" cy="186.71" r="0.75" fill="#e51e10"/><circle cx="490.50" cy="187.47" r="0.75" fill="#e51e10"/><circle cx="492.50" cy="187.89" r="0.75" fill="#e51e10"/>
<rect x="402.90000000000003" y="4.8" width="279.20" height="183.50" fill="none" stroke="#000" stroke-width="0.75" opacity="0.8"/>
<path d="M402.50 188.3H682.50" stroke="#000" stroke-width="1.1" opacity="0.8" fill="none"/>
<text x="484.0" y="18.3" text-anchor="end" class="t">Analytical</text>
<path d="M490.8 14.0H524.1" stroke="#adadad" stroke-width="1.4" fill="none"/>
<text x="484.0" y="30.5" text-anchor="end" class="t">X<tspan dy="4.0" font-size="10.2">1</tspan></text>
<rect x="490.8" y="23.1" width="33.3" height="6.3" fill="none" stroke="#9400d3" stroke-width="0.9" stroke-opacity="0.75"/>
<text x="484.0" y="42.7" text-anchor="end" class="t">Y<tspan dy="4.0" font-size="10.2">1</tspan></text>
<rect x="490.8" y="35.3" width="33.3" height="6.3" fill="none" stroke="#0072b2" stroke-width="0.9" stroke-opacity="0.75"/>
<text x="484.0" y="54.8" text-anchor="end" class="t">X<tspan dy="4.0" font-size="10.2">2</tspan></text>
<rect x="490.8" y="47.4" width="33.3" height="6.3" fill="none" stroke="#e51e10" stroke-width="0.9" stroke-opacity="0.75"/>
<text x="484.0" y="67.3" text-anchor="end" class="t">Y<tspan dy="4.0" font-size="10.2">2</tspan></text>
<rect x="490.8" y="59.9" width="33.3" height="6.3" fill="none" stroke="#000000" stroke-width="0.9" stroke-opacity="0.75"/>
<text x="402.9" y="204.9" text-anchor="middle" class="t">-1</text>
<text x="430.8" y="204.9" text-anchor="middle" class="t">-0.8</text>
<text x="458.7" y="204.9" text-anchor="middle" class="t">-0.6</text>
<text x="486.7" y="204.9" text-anchor="middle" class="t">-0.4</text>
<text x="514.6" y="204.9" text-anchor="middle" class="t">-0.2</text>
<text x="544.2" y="204.9" text-anchor="middle" class="t">0</text>
<text x="572.1" y="204.9" text-anchor="middle" class="t">0.2</text>
<text x="600.0" y="204.9" text-anchor="middle" class="t">0.4</text>
<text x="628.0" y="204.9" text-anchor="middle" class="t">0.6</text>
<text x="655.9" y="204.9" text-anchor="middle" class="t">0.8</text>
<text x="683.8" y="204.9" text-anchor="middle" class="t">1</text>
<text x="394.7" y="192.6" text-anchor="end" class="t">0</text>
<text x="394.7" y="155.9" text-anchor="end" class="t">5</text>
<text x="394.7" y="119.2" text-anchor="end" class="t">10</text>
<text x="394.7" y="82.5" text-anchor="end" class="t">15</text>
<text x="394.7" y="45.8" text-anchor="end" class="t">20</text>
<text x="394.7" y="9.1" text-anchor="end" class="t">25</text>
<text x="542.5" y="221.3" text-anchor="middle" class="t">X<tspan dy="4.3" font-size="10.2">1</tspan><tspan dy="-4.3">, X</tspan><tspan dy="4.3" font-size="10.2">2</tspan><tspan dy="-4.3">, Y</tspan><tspan dy="4.3" font-size="10.2">1</tspan><tspan dy="-4.3">, Y</tspan><tspan dy="4.3" font-size="10.2">2</tspan></text>
<text transform="translate(366.4 96.6) rotate(-90)" text-anchor="middle" class="t">Relative frequency</text>
<text transform="translate(170.9 254.5) scale(1.052 1)" text-anchor="middle" class="c">(a) Histograms based on definition of <tspan font-style="italic">α</tspan><tspan font-style="italic" font-size="11.5" dy="2.5">ℓ</tspan></text>
<text transform="translate(527.1 254.5) scale(1.052 1)" text-anchor="middle" class="c">(b) Histograms based on Equation (10)</text>
</svg>
</body></html>
